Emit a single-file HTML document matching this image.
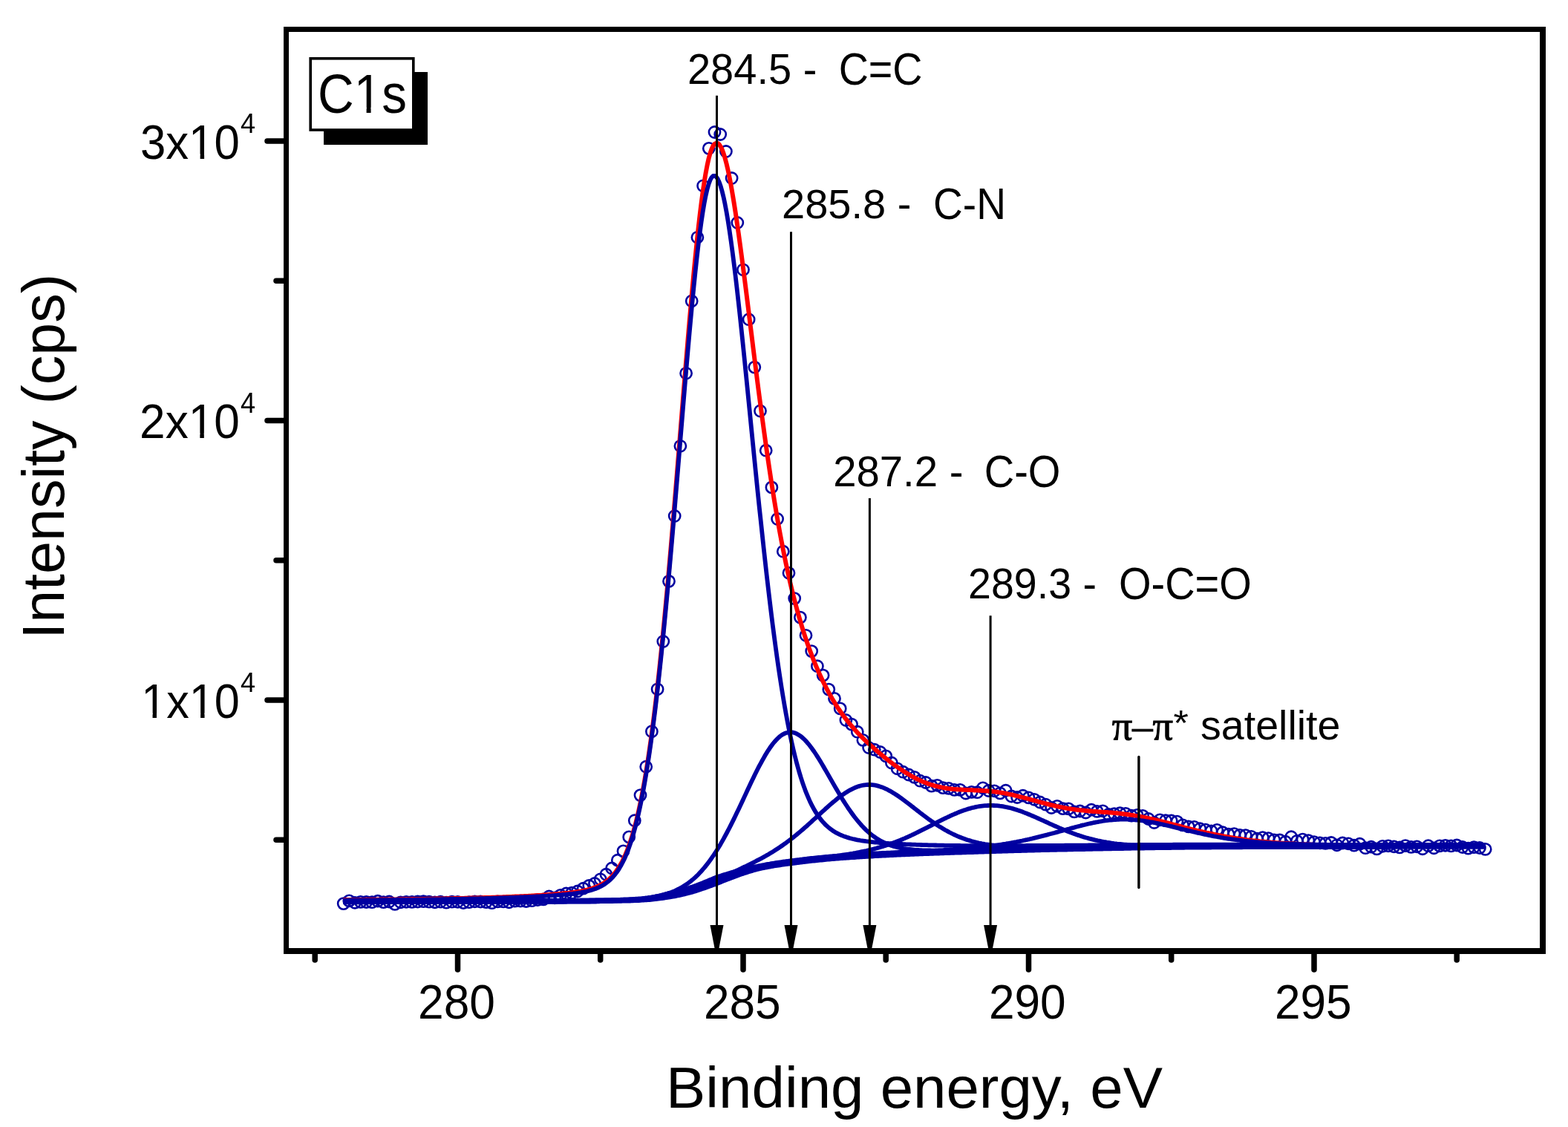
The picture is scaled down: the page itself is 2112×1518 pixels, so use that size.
<!DOCTYPE html>
<html><head><meta charset="utf-8"><title>C1s XPS</title>
<style>html,body{margin:0;padding:0;background:#fff;}svg{display:block;}</style>
</head><body>
<svg width="2112" height="1518" viewBox="0 0 2112 1518">
<rect width="2112" height="1518" fill="#fff"/>
<g fill="none" stroke="#0000A0" stroke-width="2.6">
<circle cx="462.7" cy="1217.1" r="7.6"/>
<circle cx="470.3" cy="1213.4" r="7.6"/>
<circle cx="478.0" cy="1215.8" r="7.6"/>
<circle cx="485.7" cy="1214.9" r="7.6"/>
<circle cx="493.4" cy="1215.0" r="7.6"/>
<circle cx="501.1" cy="1215.2" r="7.6"/>
<circle cx="508.8" cy="1213.7" r="7.6"/>
<circle cx="516.5" cy="1215.1" r="7.6"/>
<circle cx="524.2" cy="1214.5" r="7.6"/>
<circle cx="531.9" cy="1217.9" r="7.6"/>
<circle cx="539.6" cy="1215.3" r="7.6"/>
<circle cx="547.2" cy="1214.8" r="7.6"/>
<circle cx="554.9" cy="1214.9" r="7.6"/>
<circle cx="562.6" cy="1214.5" r="7.6"/>
<circle cx="570.3" cy="1214.2" r="7.6"/>
<circle cx="578.0" cy="1214.7" r="7.6"/>
<circle cx="585.7" cy="1215.3" r="7.6"/>
<circle cx="593.4" cy="1214.7" r="7.6"/>
<circle cx="601.1" cy="1215.7" r="7.6"/>
<circle cx="608.8" cy="1214.7" r="7.6"/>
<circle cx="616.5" cy="1214.8" r="7.6"/>
<circle cx="624.1" cy="1216.0" r="7.6"/>
<circle cx="631.8" cy="1215.2" r="7.6"/>
<circle cx="639.5" cy="1214.3" r="7.6"/>
<circle cx="647.2" cy="1214.5" r="7.6"/>
<circle cx="654.9" cy="1215.1" r="7.6"/>
<circle cx="662.6" cy="1216.2" r="7.6"/>
<circle cx="670.3" cy="1214.4" r="7.6"/>
<circle cx="678.0" cy="1214.4" r="7.6"/>
<circle cx="685.7" cy="1215.3" r="7.6"/>
<circle cx="693.4" cy="1213.6" r="7.6"/>
<circle cx="701.0" cy="1213.5" r="7.6"/>
<circle cx="708.7" cy="1214.0" r="7.6"/>
<circle cx="716.4" cy="1213.2" r="7.6"/>
<circle cx="724.1" cy="1212.0" r="7.6"/>
<circle cx="731.8" cy="1211.4" r="7.6"/>
<circle cx="739.5" cy="1207.5" r="7.6"/>
<circle cx="747.2" cy="1209.3" r="7.6"/>
<circle cx="754.9" cy="1205.9" r="7.6"/>
<circle cx="762.6" cy="1203.5" r="7.6"/>
<circle cx="770.2" cy="1202.7" r="7.6"/>
<circle cx="777.9" cy="1200.5" r="7.6"/>
<circle cx="785.6" cy="1196.7" r="7.6"/>
<circle cx="793.3" cy="1193.0" r="7.6"/>
<circle cx="801.0" cy="1190.0" r="7.6"/>
<circle cx="808.7" cy="1184.3" r="7.6"/>
<circle cx="816.4" cy="1177.7" r="7.6"/>
<circle cx="824.1" cy="1169.5" r="7.6"/>
<circle cx="831.8" cy="1158.7" r="7.6"/>
<circle cx="839.5" cy="1146.4" r="7.6"/>
<circle cx="847.2" cy="1127.4" r="7.6"/>
<circle cx="854.8" cy="1105.2" r="7.6"/>
<circle cx="862.5" cy="1071.1" r="7.6"/>
<circle cx="870.2" cy="1032.7" r="7.6"/>
<circle cx="877.9" cy="985.2" r="7.6"/>
<circle cx="885.6" cy="928.3" r="7.6"/>
<circle cx="893.3" cy="864.0" r="7.6"/>
<circle cx="901.0" cy="782.9" r="7.6"/>
<circle cx="908.7" cy="695.0" r="7.6"/>
<circle cx="916.4" cy="600.8" r="7.6"/>
<circle cx="924.1" cy="502.8" r="7.6"/>
<circle cx="931.7" cy="405.5" r="7.6"/>
<circle cx="939.4" cy="319.8" r="7.6"/>
<circle cx="947.1" cy="250.3" r="7.6"/>
<circle cx="954.8" cy="199.9" r="7.6"/>
<circle cx="962.5" cy="178.0" r="7.6"/>
<circle cx="970.2" cy="181.0" r="7.6"/>
<circle cx="977.9" cy="204.0" r="7.6"/>
<circle cx="985.6" cy="240.0" r="7.6"/>
<circle cx="993.3" cy="300.0" r="7.6"/>
<circle cx="1001.0" cy="363.3" r="7.6"/>
<circle cx="1008.6" cy="430.2" r="7.6"/>
<circle cx="1016.3" cy="494.6" r="7.6"/>
<circle cx="1024.0" cy="553.5" r="7.6"/>
<circle cx="1031.7" cy="606.7" r="7.6"/>
<circle cx="1039.4" cy="656.4" r="7.6"/>
<circle cx="1047.1" cy="699.0" r="7.6"/>
<circle cx="1054.8" cy="742.7" r="7.6"/>
<circle cx="1062.5" cy="771.8" r="7.6"/>
<circle cx="1070.2" cy="806.1" r="7.6"/>
<circle cx="1077.9" cy="831.6" r="7.6"/>
<circle cx="1085.5" cy="855.8" r="7.6"/>
<circle cx="1093.2" cy="877.1" r="7.6"/>
<circle cx="1100.9" cy="897.2" r="7.6"/>
<circle cx="1108.6" cy="909.6" r="7.6"/>
<circle cx="1116.3" cy="928.6" r="7.6"/>
<circle cx="1124.0" cy="940.9" r="7.6"/>
<circle cx="1131.7" cy="954.4" r="7.6"/>
<circle cx="1139.4" cy="970.0" r="7.6"/>
<circle cx="1147.1" cy="975.6" r="7.6"/>
<circle cx="1154.8" cy="985.7" r="7.6"/>
<circle cx="1162.4" cy="996.9" r="7.6"/>
<circle cx="1170.1" cy="1007.0" r="7.6"/>
<circle cx="1177.8" cy="1009.7" r="7.6"/>
<circle cx="1185.5" cy="1013.0" r="7.6"/>
<circle cx="1193.2" cy="1018.4" r="7.6"/>
<circle cx="1200.9" cy="1027.5" r="7.6"/>
<circle cx="1208.6" cy="1035.3" r="7.6"/>
<circle cx="1216.3" cy="1039.7" r="7.6"/>
<circle cx="1224.0" cy="1043.5" r="7.6"/>
<circle cx="1231.7" cy="1046.9" r="7.6"/>
<circle cx="1239.3" cy="1051.7" r="7.6"/>
<circle cx="1247.0" cy="1054.0" r="7.6"/>
<circle cx="1254.7" cy="1058.6" r="7.6"/>
<circle cx="1262.4" cy="1057.8" r="7.6"/>
<circle cx="1270.1" cy="1061.1" r="7.6"/>
<circle cx="1277.8" cy="1061.9" r="7.6"/>
<circle cx="1285.5" cy="1063.9" r="7.6"/>
<circle cx="1293.2" cy="1063.9" r="7.6"/>
<circle cx="1300.9" cy="1068.5" r="7.6"/>
<circle cx="1308.6" cy="1066.9" r="7.6"/>
<circle cx="1316.2" cy="1067.2" r="7.6"/>
<circle cx="1323.9" cy="1061.3" r="7.6"/>
<circle cx="1331.6" cy="1065.0" r="7.6"/>
<circle cx="1339.3" cy="1065.3" r="7.6"/>
<circle cx="1347.0" cy="1068.4" r="7.6"/>
<circle cx="1354.7" cy="1064.7" r="7.6"/>
<circle cx="1362.4" cy="1072.5" r="7.6"/>
<circle cx="1370.1" cy="1074.0" r="7.6"/>
<circle cx="1377.8" cy="1071.7" r="7.6"/>
<circle cx="1385.5" cy="1074.4" r="7.6"/>
<circle cx="1393.1" cy="1076.8" r="7.6"/>
<circle cx="1400.8" cy="1080.5" r="7.6"/>
<circle cx="1408.5" cy="1083.6" r="7.6"/>
<circle cx="1416.2" cy="1088.0" r="7.6"/>
<circle cx="1423.9" cy="1085.8" r="7.6"/>
<circle cx="1431.6" cy="1089.1" r="7.6"/>
<circle cx="1439.3" cy="1089.4" r="7.6"/>
<circle cx="1447.0" cy="1093.4" r="7.6"/>
<circle cx="1454.7" cy="1092.5" r="7.6"/>
<circle cx="1462.4" cy="1094.5" r="7.6"/>
<circle cx="1470.0" cy="1090.7" r="7.6"/>
<circle cx="1477.7" cy="1092.9" r="7.6"/>
<circle cx="1485.4" cy="1092.3" r="7.6"/>
<circle cx="1493.1" cy="1097.0" r="7.6"/>
<circle cx="1500.8" cy="1096.2" r="7.6"/>
<circle cx="1508.5" cy="1095.2" r="7.6"/>
<circle cx="1516.2" cy="1095.9" r="7.6"/>
<circle cx="1523.9" cy="1098.7" r="7.6"/>
<circle cx="1531.6" cy="1097.8" r="7.6"/>
<circle cx="1539.2" cy="1098.9" r="7.6"/>
<circle cx="1546.9" cy="1103.0" r="7.6"/>
<circle cx="1554.6" cy="1108.0" r="7.6"/>
<circle cx="1562.3" cy="1104.4" r="7.6"/>
<circle cx="1570.0" cy="1105.2" r="7.6"/>
<circle cx="1577.7" cy="1105.5" r="7.6"/>
<circle cx="1585.4" cy="1106.6" r="7.6"/>
<circle cx="1593.1" cy="1111.4" r="7.6"/>
<circle cx="1600.8" cy="1113.4" r="7.6"/>
<circle cx="1608.5" cy="1113.8" r="7.6"/>
<circle cx="1616.2" cy="1116.2" r="7.6"/>
<circle cx="1623.8" cy="1117.6" r="7.6"/>
<circle cx="1631.5" cy="1119.3" r="7.6"/>
<circle cx="1639.2" cy="1117.9" r="7.6"/>
<circle cx="1646.9" cy="1121.2" r="7.6"/>
<circle cx="1654.6" cy="1123.6" r="7.6"/>
<circle cx="1662.3" cy="1123.1" r="7.6"/>
<circle cx="1670.0" cy="1124.8" r="7.6"/>
<circle cx="1677.7" cy="1125.1" r="7.6"/>
<circle cx="1685.4" cy="1126.8" r="7.6"/>
<circle cx="1693.1" cy="1129.7" r="7.6"/>
<circle cx="1700.7" cy="1128.1" r="7.6"/>
<circle cx="1708.4" cy="1129.1" r="7.6"/>
<circle cx="1716.1" cy="1131.3" r="7.6"/>
<circle cx="1723.8" cy="1131.5" r="7.6"/>
<circle cx="1731.5" cy="1133.7" r="7.6"/>
<circle cx="1739.2" cy="1127.2" r="7.6"/>
<circle cx="1746.9" cy="1132.8" r="7.6"/>
<circle cx="1754.6" cy="1130.6" r="7.6"/>
<circle cx="1762.3" cy="1132.1" r="7.6"/>
<circle cx="1770.0" cy="1134.1" r="7.6"/>
<circle cx="1777.6" cy="1135.3" r="7.6"/>
<circle cx="1785.3" cy="1135.9" r="7.6"/>
<circle cx="1793.0" cy="1135.0" r="7.6"/>
<circle cx="1800.7" cy="1138.3" r="7.6"/>
<circle cx="1808.4" cy="1135.5" r="7.6"/>
<circle cx="1816.1" cy="1136.3" r="7.6"/>
<circle cx="1823.8" cy="1138.6" r="7.6"/>
<circle cx="1831.5" cy="1136.7" r="7.6"/>
<circle cx="1839.2" cy="1142.2" r="7.6"/>
<circle cx="1846.9" cy="1140.7" r="7.6"/>
<circle cx="1854.5" cy="1143.4" r="7.6"/>
<circle cx="1862.2" cy="1139.8" r="7.6"/>
<circle cx="1869.9" cy="1139.3" r="7.6"/>
<circle cx="1877.6" cy="1140.3" r="7.6"/>
<circle cx="1885.3" cy="1141.4" r="7.6"/>
<circle cx="1893.0" cy="1139.1" r="7.6"/>
<circle cx="1900.7" cy="1140.9" r="7.6"/>
<circle cx="1908.4" cy="1140.3" r="7.6"/>
<circle cx="1916.1" cy="1143.3" r="7.6"/>
<circle cx="1923.8" cy="1139.2" r="7.6"/>
<circle cx="1931.4" cy="1142.3" r="7.6"/>
<circle cx="1939.1" cy="1139.4" r="7.6"/>
<circle cx="1946.8" cy="1138.8" r="7.6"/>
<circle cx="1954.5" cy="1139.4" r="7.6"/>
<circle cx="1962.2" cy="1138.5" r="7.6"/>
<circle cx="1969.9" cy="1141.0" r="7.6"/>
<circle cx="1977.6" cy="1142.6" r="7.6"/>
<circle cx="1985.3" cy="1141.1" r="7.6"/>
<circle cx="1993.0" cy="1142.0" r="7.6"/>
<circle cx="2000.7" cy="1143.9" r="7.6"/>
</g>
<path d="M462.6,1212.1 L464.6,1212.1 L466.6,1212.1 L468.6,1212.1 L470.6,1212.0 L472.6,1212.0 L474.6,1212.0 L476.6,1212.0 L478.6,1212.0 L480.6,1212.0 L482.6,1211.9 L484.6,1211.9 L486.6,1211.9 L488.6,1211.9 L490.6,1211.9 L492.6,1211.8 L494.6,1211.8 L496.6,1211.8 L498.6,1211.8 L500.6,1211.8 L502.6,1211.8 L504.6,1211.7 L506.6,1211.7 L508.6,1211.7 L510.6,1211.7 L512.6,1211.6 L514.6,1211.6 L516.6,1211.6 L518.6,1211.6 L520.6,1211.6 L522.6,1211.5 L524.6,1211.5 L526.6,1211.5 L528.6,1211.5 L530.6,1211.4 L532.6,1211.4 L534.6,1211.4 L536.6,1211.4 L538.6,1211.3 L540.6,1211.3 L542.6,1211.3 L544.6,1211.3 L546.6,1211.2 L548.6,1211.2 L550.6,1211.2 L552.6,1211.2 L554.6,1211.1 L556.6,1211.1 L558.6,1211.1 L560.6,1211.0 L562.6,1211.0 L564.6,1211.0 L566.6,1211.0 L568.6,1210.9 L570.6,1210.9 L572.6,1210.9 L574.6,1210.8 L576.6,1210.8 L578.6,1210.8 L580.6,1210.7 L582.6,1210.7 L584.6,1210.7 L586.6,1210.6 L588.6,1210.6 L590.6,1210.6 L592.6,1210.5 L594.6,1210.5 L596.6,1210.5 L598.6,1210.4 L600.6,1210.4 L602.6,1210.3 L604.6,1210.3 L606.6,1210.3 L608.6,1210.2 L610.6,1210.2 L612.6,1210.1 L614.6,1210.1 L616.6,1210.1 L618.6,1210.0 L620.6,1210.0 L622.6,1209.9 L624.6,1209.9 L626.6,1209.8 L628.6,1209.8 L630.6,1209.7 L632.6,1209.7 L634.6,1209.6 L636.6,1209.6 L638.6,1209.5 L640.6,1209.5 L642.6,1209.4 L644.6,1209.4 L646.6,1209.3 L648.6,1209.3 L650.6,1209.2 L652.6,1209.1 L654.6,1209.1 L656.6,1209.0 L658.6,1209.0 L660.6,1208.9 L662.6,1208.8 L664.6,1208.8 L666.6,1208.7 L668.6,1208.6 L670.6,1208.6 L672.6,1208.5 L674.6,1208.4 L676.6,1208.4 L678.6,1208.3 L680.6,1208.2 L682.6,1208.1 L684.6,1208.1 L686.6,1208.0 L688.6,1207.9 L690.6,1207.8 L692.6,1207.7 L694.6,1207.6 L696.6,1207.5 L698.6,1207.5 L700.6,1207.4 L702.6,1207.3 L704.6,1207.2 L706.6,1207.1 L708.6,1207.0 L710.6,1206.9 L712.6,1206.8 L714.6,1206.7 L716.6,1206.6 L718.6,1206.5 L720.6,1206.3 L722.6,1206.2 L724.6,1206.1 L726.6,1206.0 L728.6,1205.9 L730.6,1205.7 L732.6,1205.6 L734.6,1205.5 L736.6,1205.3 L738.6,1205.2 L740.6,1205.0 L742.6,1204.9 L744.6,1204.7 L746.6,1204.6 L748.6,1204.4 L750.6,1204.3 L752.6,1204.1 L754.6,1203.9 L756.6,1203.7 L758.6,1203.5 L760.6,1203.3 L762.6,1203.1 L764.6,1202.9 L766.6,1202.7 L768.6,1202.4 L770.6,1202.2 L772.6,1201.9 L774.6,1201.6 L776.6,1201.4 L778.6,1201.0 L780.6,1200.7 L782.6,1200.4 L784.6,1200.0 L786.6,1199.6 L788.6,1199.1 L790.6,1198.7 L792.6,1198.2 L794.6,1197.6 L796.6,1197.0 L798.6,1196.4 L800.6,1195.7 L802.6,1194.9 L804.6,1194.1 L806.6,1193.2 L808.6,1192.2 L810.6,1191.1 L812.6,1190.0 L814.6,1188.7 L816.6,1187.2 L818.6,1185.7 L820.6,1184.0 L822.6,1182.1 L824.6,1180.0 L826.6,1177.8 L828.6,1175.3 L830.6,1172.7 L832.6,1169.7 L834.6,1166.5 L836.6,1163.1 L838.6,1159.3 L840.6,1155.1 L842.6,1150.7 L844.6,1145.8 L846.6,1140.6 L848.6,1134.9 L850.6,1128.8 L852.6,1122.2 L854.6,1115.1 L856.6,1107.4 L858.6,1099.2 L860.6,1090.5 L862.6,1081.1 L864.6,1071.2 L866.6,1060.5 L868.6,1049.2 L870.6,1037.3 L872.6,1024.6 L874.6,1011.2 L876.6,997.1 L878.6,982.3 L880.6,966.7 L882.6,950.4 L884.6,933.4 L886.6,915.6 L888.6,897.1 L890.6,877.9 L892.6,858.1 L894.6,837.5 L896.6,816.3 L898.6,794.6 L900.6,772.2 L902.6,749.3 L904.6,726.0 L906.6,702.2 L908.6,678.1 L910.6,653.7 L912.6,629.1 L914.6,604.3 L916.6,579.4 L918.6,554.6 L920.6,529.8 L922.6,505.2 L924.6,480.9 L926.6,456.9 L928.6,433.4 L930.6,410.5 L932.6,388.2 L934.6,366.6 L936.6,346.0 L938.6,326.3 L940.6,307.6 L942.6,290.1 L944.6,273.8 L946.6,258.8 L948.6,245.2 L950.6,233.1 L952.6,222.5 L954.6,213.5 L956.6,206.2 L958.6,200.5 L960.6,196.4 L962.6,193.9 L964.6,192.8 L966.6,193.0 L968.6,194.5 L970.6,197.4 L972.6,201.4 L974.6,206.8 L976.6,213.2 L978.6,220.8 L980.6,229.4 L982.6,239.0 L984.6,249.5 L986.6,260.9 L988.6,273.0 L990.6,285.8 L992.6,299.2 L994.6,313.2 L996.6,327.7 L998.6,342.6 L1000.6,357.9 L1002.6,373.4 L1004.6,389.2 L1006.6,405.1 L1008.6,421.2 L1010.6,437.3 L1012.6,453.4 L1014.6,469.5 L1016.6,485.5 L1018.6,501.4 L1020.6,517.1 L1022.6,532.7 L1024.7,548.0 L1026.7,563.1 L1028.7,577.9 L1030.7,592.4 L1032.7,606.6 L1034.7,620.5 L1036.7,634.0 L1038.7,647.2 L1040.7,660.0 L1042.7,672.5 L1044.7,684.6 L1046.7,696.4 L1048.7,707.7 L1050.7,718.8 L1052.7,729.4 L1054.7,739.7 L1056.7,749.7 L1058.7,759.3 L1060.7,768.6 L1062.7,777.6 L1064.7,786.3 L1066.7,794.7 L1068.7,802.8 L1070.7,810.6 L1072.7,818.1 L1074.7,825.4 L1076.7,832.4 L1078.7,839.2 L1080.7,845.8 L1082.7,852.1 L1084.7,858.3 L1086.7,864.2 L1088.7,869.9 L1090.7,875.5 L1092.7,880.8 L1094.7,886.1 L1096.7,891.1 L1098.7,896.0 L1100.7,900.7 L1102.7,905.3 L1104.7,909.7 L1106.7,914.0 L1108.7,918.2 L1110.7,922.2 L1112.7,926.1 L1114.7,929.9 L1116.7,933.6 L1118.7,937.2 L1120.7,940.7 L1122.7,944.0 L1124.7,947.3 L1126.7,950.5 L1128.7,953.6 L1130.7,956.5 L1132.7,959.4 L1134.7,962.2 L1136.7,965.0 L1138.7,967.6 L1140.7,970.2 L1142.7,972.7 L1144.7,975.2 L1146.7,977.5 L1148.7,979.8 L1150.7,982.1 L1152.7,984.3 L1154.7,986.5 L1156.7,988.6 L1158.7,990.6 L1160.7,992.6 L1162.7,994.6 L1164.7,996.6 L1166.7,998.5 L1168.7,1000.4 L1170.7,1002.2 L1172.7,1004.0 L1174.7,1005.8 L1176.7,1007.6 L1178.7,1009.4 L1180.7,1011.1 L1182.7,1012.8 L1184.7,1014.5 L1186.7,1016.2 L1188.7,1017.8 L1190.7,1019.4 L1192.7,1021.1 L1194.7,1022.6 L1196.7,1024.2 L1198.7,1025.8 L1200.7,1027.3 L1202.7,1028.8 L1204.7,1030.3 L1206.7,1031.7 L1208.7,1033.1 L1210.7,1034.5 L1212.7,1035.9 L1214.7,1037.3 L1216.7,1038.6 L1218.7,1039.9 L1220.7,1041.1 L1222.7,1042.3 L1224.7,1043.5 L1226.7,1044.7 L1228.7,1045.8 L1230.7,1046.9 L1232.7,1048.0 L1234.7,1049.0 L1236.7,1050.0 L1238.7,1050.9 L1240.7,1051.8 L1242.7,1052.7 L1244.7,1053.5 L1246.7,1054.3 L1248.7,1055.1 L1250.7,1055.8 L1252.7,1056.5 L1254.7,1057.1 L1256.7,1057.7 L1258.7,1058.3 L1260.7,1058.8 L1262.7,1059.3 L1264.7,1059.8 L1266.7,1060.2 L1268.7,1060.6 L1270.7,1061.0 L1272.7,1061.4 L1274.7,1061.7 L1276.7,1062.0 L1278.7,1062.2 L1280.7,1062.5 L1282.7,1062.7 L1284.7,1062.9 L1286.7,1063.0 L1288.7,1063.2 L1290.7,1063.3 L1292.7,1063.5 L1294.7,1063.6 L1296.7,1063.7 L1298.7,1063.8 L1300.7,1063.9 L1302.7,1064.0 L1304.7,1064.1 L1306.7,1064.1 L1308.7,1064.2 L1310.7,1064.3 L1312.7,1064.4 L1314.7,1064.5 L1316.7,1064.6 L1318.7,1064.7 L1320.7,1064.8 L1322.7,1064.9 L1324.7,1065.0 L1326.7,1065.2 L1328.7,1065.3 L1330.7,1065.5 L1332.7,1065.7 L1334.7,1065.9 L1336.7,1066.1 L1338.7,1066.3 L1340.7,1066.6 L1342.7,1066.8 L1344.7,1067.1 L1346.7,1067.4 L1348.7,1067.7 L1350.7,1068.0 L1352.7,1068.4 L1354.7,1068.8 L1356.7,1069.1 L1358.7,1069.6 L1360.7,1070.0 L1362.7,1070.4 L1364.7,1070.8 L1366.7,1071.3 L1368.7,1071.8 L1370.7,1072.3 L1372.7,1072.8 L1374.7,1073.3 L1376.7,1073.8 L1378.7,1074.3 L1380.7,1074.8 L1382.7,1075.4 L1384.7,1075.9 L1386.7,1076.5 L1388.7,1077.0 L1390.7,1077.6 L1392.7,1078.1 L1394.7,1078.7 L1396.7,1079.2 L1398.7,1079.8 L1400.7,1080.3 L1402.7,1080.9 L1404.7,1081.4 L1406.7,1081.9 L1408.7,1082.5 L1410.7,1083.0 L1412.7,1083.5 L1414.7,1084.0 L1416.7,1084.5 L1418.7,1084.9 L1420.7,1085.4 L1422.7,1085.9 L1424.7,1086.3 L1426.7,1086.7 L1428.7,1087.1 L1430.7,1087.5 L1432.7,1087.9 L1434.7,1088.3 L1436.7,1088.6 L1438.7,1089.0 L1440.7,1089.3 L1442.7,1089.6 L1444.7,1089.9 L1446.7,1090.2 L1448.7,1090.5 L1450.7,1090.7 L1452.7,1091.0 L1454.7,1091.2 L1456.7,1091.4 L1458.7,1091.6 L1460.7,1091.8 L1462.7,1092.0 L1464.7,1092.2 L1466.7,1092.4 L1468.7,1092.5 L1470.7,1092.7 L1472.7,1092.9 L1474.7,1093.0 L1476.7,1093.1 L1478.7,1093.3 L1480.7,1093.4 L1482.7,1093.6 L1484.7,1093.7 L1486.7,1093.9 L1488.7,1094.0 L1490.7,1094.1 L1492.7,1094.3 L1494.7,1094.5 L1496.7,1094.6 L1498.7,1094.8 L1500.7,1095.0 L1502.7,1095.2 L1504.7,1095.3 L1506.7,1095.6 L1508.7,1095.8 L1510.7,1096.0 L1512.7,1096.2 L1514.7,1096.5 L1516.7,1096.7 L1518.7,1097.0 L1520.7,1097.3 L1522.7,1097.6 L1524.7,1097.9 L1526.7,1098.2 L1528.7,1098.6 L1530.7,1098.9 L1532.7,1099.3 L1534.7,1099.6 L1536.7,1100.0 L1538.7,1100.4 L1540.7,1100.8 L1542.7,1101.3 L1544.7,1101.7 L1546.7,1102.1 L1548.7,1102.6 L1550.7,1103.0 L1552.7,1103.5 L1554.7,1104.0 L1556.7,1104.4 L1558.7,1104.9 L1560.7,1105.4 L1562.7,1105.9 L1564.7,1106.4 L1566.7,1106.9 L1568.7,1107.4 L1570.7,1108.0 L1572.7,1108.5 L1574.7,1109.0 L1576.7,1109.5 L1578.7,1110.1 L1580.7,1110.6 L1582.7,1111.1 L1584.7,1111.6 L1586.7,1112.2 L1588.7,1112.7 L1590.7,1113.2 L1592.7,1113.8 L1594.7,1114.3 L1596.7,1114.8 L1598.7,1115.3 L1600.7,1115.8 L1602.7,1116.3 L1604.7,1116.8 L1606.7,1117.3 L1608.7,1117.8 L1610.7,1118.3 L1612.7,1118.8 L1614.7,1119.3 L1616.7,1119.8 L1618.7,1120.2 L1620.7,1120.7 L1622.7,1121.1 L1624.7,1121.6 L1626.7,1122.0 L1628.7,1122.5 L1630.7,1122.9 L1632.7,1123.3 L1634.7,1123.7 L1636.7,1124.1 L1638.7,1124.5 L1640.7,1124.9 L1642.7,1125.3 L1644.7,1125.6 L1646.7,1126.0 L1648.7,1126.4 L1650.7,1126.7 L1652.7,1127.1 L1654.7,1127.4 L1656.7,1127.8 L1658.7,1128.1 L1660.7,1128.5 L1662.7,1128.8 L1664.7,1129.1 L1666.7,1129.4 L1668.7,1129.8 L1670.7,1130.0 L1672.7,1130.3 L1674.7,1130.6 L1676.7,1130.9 L1678.7,1131.2 L1680.7,1131.4 L1682.7,1131.7 L1684.7,1131.9 L1686.7,1132.2 L1688.7,1132.4 L1690.7,1132.6 L1692.7,1132.8 L1694.7,1133.0 L1696.7,1133.3 L1698.7,1133.5 L1700.7,1133.7 L1702.7,1133.8 L1704.7,1134.0 L1706.7,1134.2 L1708.7,1134.4 L1710.7,1134.5 L1712.7,1134.7 L1714.7,1134.9 L1716.7,1135.0 L1718.7,1135.2 L1720.7,1135.3 L1722.7,1135.4 L1724.7,1135.6 L1726.7,1135.7 L1728.7,1135.8 L1730.7,1136.0 L1732.7,1136.1 L1734.7,1136.2 L1736.7,1136.3 L1738.7,1136.4 L1740.7,1136.5 L1742.7,1136.6 L1744.7,1136.7 L1746.7,1136.8 L1748.7,1136.9 L1750.7,1137.0 L1752.7,1137.1 L1754.7,1137.2 L1756.7,1137.3 L1758.7,1137.4 L1760.7,1137.5 L1762.7,1137.6 L1764.7,1137.6 L1766.7,1137.7 L1768.7,1137.8 L1770.7,1137.9 L1772.7,1137.9 L1774.7,1138.0 L1776.7,1138.1 L1778.7,1138.1 L1780.7,1138.2 L1782.7,1138.3 L1784.7,1138.3 L1786.7,1138.4 L1788.7,1138.5 L1790.7,1138.5 L1792.7,1138.6 L1794.7,1138.7 L1796.7,1138.7 L1798.7,1138.8 L1800.7,1138.8 L1802.7,1138.9 L1804.7,1138.9 L1806.7,1138.9 L1808.7,1138.9 L1810.7,1138.9 L1812.7,1139.0 L1814.7,1139.0 L1816.7,1139.0 L1818.7,1139.0 L1820.7,1139.0 L1822.7,1139.1 L1824.7,1139.1 L1826.7,1139.1 L1828.7,1139.1 L1830.7,1139.1 L1832.7,1139.2 L1834.7,1139.2 L1836.7,1139.2 L1838.7,1139.2 L1840.7,1139.2 L1842.7,1139.2 L1844.7,1139.2 L1846.7,1139.3 L1848.7,1139.3 L1850.7,1139.3 L1852.7,1139.3 L1854.7,1139.3 L1856.7,1139.3 L1858.7,1139.3 L1860.7,1139.4 L1862.7,1139.4 L1864.7,1139.4 L1866.7,1139.4 L1868.7,1139.4 L1870.7,1139.4 L1872.7,1139.4 L1874.7,1139.4 L1876.7,1139.5 L1878.7,1139.5 L1880.7,1139.5 L1882.7,1139.5 L1884.7,1139.5 L1886.7,1139.5 L1888.7,1139.5 L1890.7,1139.5 L1892.7,1139.5 L1894.7,1139.6 L1896.7,1139.6 L1898.7,1139.6 L1900.7,1139.6 L1902.7,1139.6 L1904.7,1139.6 L1906.7,1139.6 L1908.7,1139.6 L1910.7,1139.6 L1912.7,1139.6 L1914.7,1139.7 L1916.7,1139.7 L1918.7,1139.7 L1920.7,1139.7 L1922.7,1139.7 L1924.7,1139.7 L1926.7,1139.7 L1928.7,1139.7 L1930.7,1139.7 L1932.7,1139.7 L1934.7,1139.7 L1936.7,1139.7 L1938.7,1139.8 L1940.7,1139.8 L1942.7,1139.8 L1944.7,1139.8 L1946.7,1139.8 L1948.7,1139.8 L1950.7,1139.8 L1952.7,1139.8 L1954.7,1139.8 L1956.7,1139.8 L1958.7,1139.8 L1960.7,1139.8 L1962.7,1139.8 L1964.7,1139.9 L1966.7,1139.9 L1968.7,1139.9 L1970.7,1139.9 L1972.7,1139.9 L1974.7,1139.9 L1976.7,1139.9 L1978.7,1139.9 L1980.7,1139.9 L1982.7,1139.9 L1984.7,1139.9 L1986.7,1139.9 L1988.7,1139.9 L1990.7,1139.9 L1992.7,1139.9 L1994.7,1140.0 L1996.7,1140.0 L1998.7,1140.0 L2000.7,1140.0" fill="none" stroke="#FF0000" stroke-width="6" stroke-linejoin="round"/>
<g fill="none" stroke="#0000A0" stroke-width="5.8" stroke-linejoin="round">
<path d="M462.6,1215.2 L464.6,1215.2 L466.6,1215.2 L468.6,1215.2 L470.6,1215.2 L472.6,1215.2 L474.6,1215.2 L476.6,1215.2 L478.6,1215.2 L480.6,1215.2 L482.6,1215.2 L484.6,1215.2 L486.6,1215.2 L488.6,1215.2 L490.6,1215.2 L492.6,1215.2 L494.6,1215.2 L496.6,1215.2 L498.6,1215.2 L500.6,1215.2 L502.6,1215.2 L504.6,1215.2 L506.6,1215.2 L508.6,1215.1 L510.6,1215.1 L512.6,1215.1 L514.6,1215.1 L516.6,1215.1 L518.6,1215.1 L520.6,1215.1 L522.6,1215.1 L524.6,1215.1 L526.6,1215.1 L528.6,1215.1 L530.6,1215.1 L532.6,1215.1 L534.6,1215.1 L536.6,1215.1 L538.6,1215.1 L540.6,1215.1 L542.6,1215.1 L544.6,1215.1 L546.6,1215.1 L548.6,1215.1 L550.6,1215.1 L552.6,1215.1 L554.6,1215.1 L556.6,1215.1 L558.6,1215.1 L560.6,1215.1 L562.6,1215.0 L564.6,1215.0 L566.6,1215.0 L568.6,1215.0 L570.6,1215.0 L572.6,1215.0 L574.6,1215.0 L576.6,1215.0 L578.6,1215.0 L580.6,1215.0 L582.6,1215.0 L584.6,1215.0 L586.6,1215.0 L588.6,1215.0 L590.6,1215.0 L592.6,1215.0 L594.6,1215.0 L596.6,1215.0 L598.6,1215.0 L600.6,1215.0 L602.6,1215.0 L604.6,1215.0 L606.6,1215.0 L608.6,1214.9 L610.6,1214.9 L612.6,1214.9 L614.6,1214.9 L616.6,1214.9 L618.6,1214.9 L620.6,1214.9 L622.6,1214.9 L624.6,1214.9 L626.6,1214.9 L628.6,1214.9 L630.6,1214.9 L632.6,1214.9 L634.6,1214.9 L636.6,1214.9 L638.6,1214.9 L640.6,1214.9 L642.6,1214.9 L644.6,1214.9 L646.6,1214.9 L648.6,1214.8 L650.6,1214.8 L652.6,1214.8 L654.6,1214.8 L656.6,1214.8 L658.6,1214.8 L660.6,1214.8 L662.6,1214.8 L664.6,1214.8 L666.6,1214.8 L668.6,1214.8 L670.6,1214.8 L672.6,1214.8 L674.6,1214.8 L676.6,1214.8 L678.6,1214.8 L680.6,1214.8 L682.6,1214.7 L684.6,1214.7 L686.6,1214.7 L688.6,1214.7 L690.6,1214.7 L692.6,1214.7 L694.6,1214.7 L696.6,1214.7 L698.6,1214.7 L700.6,1214.7 L702.6,1214.7 L704.6,1214.7 L706.6,1214.7 L708.6,1214.7 L710.6,1214.7 L712.6,1214.6 L714.6,1214.6 L716.6,1214.6 L718.6,1214.6 L720.6,1214.6 L722.6,1214.6 L724.6,1214.6 L726.6,1214.6 L728.6,1214.6 L730.6,1214.6 L732.6,1214.6 L734.6,1214.6 L736.6,1214.6 L738.6,1214.5 L740.6,1214.5 L742.6,1214.5 L744.6,1214.5 L746.6,1214.5 L748.6,1214.5 L750.6,1214.5 L752.6,1214.5 L754.6,1214.5 L756.6,1214.5 L758.6,1214.5 L760.6,1214.4 L762.6,1214.4 L764.6,1214.4 L766.6,1214.4 L768.6,1214.4 L770.6,1214.4 L772.6,1214.4 L774.6,1214.4 L776.6,1214.4 L778.6,1214.4 L780.6,1214.3 L782.6,1214.3 L784.6,1214.3 L786.6,1214.3 L788.6,1214.3 L790.6,1214.3 L792.6,1214.3 L794.6,1214.3 L796.6,1214.2 L798.6,1214.2 L800.6,1214.2 L802.6,1214.2 L804.6,1214.2 L806.6,1214.2 L808.6,1214.1 L810.6,1214.1 L812.6,1214.1 L814.6,1214.1 L816.6,1214.1 L818.6,1214.0 L820.6,1214.0 L822.6,1214.0 L824.6,1214.0 L826.6,1213.9 L828.6,1213.9 L830.6,1213.9 L832.6,1213.8 L834.6,1213.8 L836.6,1213.8 L838.6,1213.7 L840.6,1213.7 L842.6,1213.6 L844.6,1213.6 L846.6,1213.5 L848.6,1213.5 L850.6,1213.4 L852.6,1213.3 L854.6,1213.2 L856.6,1213.2 L858.6,1213.1 L860.6,1213.0 L862.6,1212.9 L864.6,1212.7 L866.6,1212.6 L868.6,1212.4 L870.6,1212.3 L872.6,1212.1 L874.6,1212.0 L876.6,1211.8 L878.6,1211.6 L880.6,1211.4 L882.6,1211.2 L884.6,1210.9 L886.6,1210.7 L888.6,1210.4 L890.6,1210.2 L892.6,1209.9 L894.6,1209.6 L896.6,1209.2 L898.6,1208.9 L900.6,1208.6 L902.6,1208.3 L904.6,1208.0 L906.6,1207.6 L908.6,1207.3 L910.6,1206.9 L912.6,1206.5 L914.6,1206.1 L916.6,1205.7 L918.6,1205.2 L920.6,1204.7 L922.6,1204.3 L924.6,1203.8 L926.6,1203.2 L928.6,1202.7 L930.6,1202.1 L932.6,1201.6 L934.6,1201.0 L936.6,1200.4 L938.6,1199.7 L940.6,1199.1 L942.6,1198.4 L944.6,1197.8 L946.6,1197.1 L948.6,1196.4 L950.6,1195.7 L952.6,1195.0 L954.6,1194.3 L956.6,1193.6 L958.6,1192.9 L960.6,1192.1 L962.6,1191.4 L964.6,1190.7 L966.6,1189.9 L968.6,1189.1 L970.6,1188.3 L972.6,1187.4 L974.6,1186.6 L976.6,1185.8 L978.6,1185.0 L980.6,1184.3 L982.6,1183.5 L984.6,1182.7 L986.6,1182.0 L988.6,1181.2 L990.6,1180.5 L992.6,1179.7 L994.6,1179.0 L996.6,1178.3 L998.6,1177.6 L1000.6,1176.9 L1002.6,1176.3 L1004.6,1175.6 L1006.6,1175.0 L1008.6,1174.3 L1010.6,1173.7 L1012.6,1173.1 L1014.6,1172.5 L1016.6,1171.9 L1018.6,1171.4 L1020.6,1170.8 L1022.6,1170.4 L1024.7,1170.0 L1026.7,1169.5 L1028.7,1169.1 L1030.7,1168.7 L1032.7,1168.3 L1034.7,1167.9 L1036.7,1167.6 L1038.7,1167.2 L1040.7,1166.9 L1042.7,1166.5 L1044.7,1166.2 L1046.7,1165.9 L1048.7,1165.6 L1050.7,1165.3 L1052.7,1165.0 L1054.7,1164.7 L1056.7,1164.4 L1058.7,1164.2 L1060.7,1163.9 L1062.7,1163.7 L1064.7,1163.4 L1066.7,1163.1 L1068.7,1162.9 L1070.7,1162.6 L1072.7,1162.3 L1074.7,1162.0 L1076.7,1161.8 L1078.7,1161.5 L1080.7,1161.3 L1082.7,1161.0 L1084.7,1160.8 L1086.7,1160.6 L1088.7,1160.3 L1090.7,1160.1 L1092.7,1159.9 L1094.7,1159.7 L1096.7,1159.5 L1098.7,1159.3 L1100.7,1159.1 L1102.7,1158.9 L1104.7,1158.7 L1106.7,1158.5 L1108.7,1158.3 L1110.7,1158.1 L1112.7,1157.9 L1114.7,1157.7 L1116.7,1157.6 L1118.7,1157.4 L1120.7,1157.2 L1122.7,1157.0 L1124.7,1156.9 L1126.7,1156.7 L1128.7,1156.6 L1130.7,1156.4 L1132.7,1156.2 L1134.7,1156.1 L1136.7,1155.9 L1138.7,1155.8 L1140.7,1155.6 L1142.7,1155.5 L1144.7,1155.4 L1146.7,1155.2 L1148.7,1155.1 L1150.7,1155.0 L1152.7,1154.8 L1154.7,1154.7 L1156.7,1154.6 L1158.7,1154.4 L1160.7,1154.3 L1162.7,1154.2 L1164.7,1154.1 L1166.7,1153.9 L1168.7,1153.8 L1170.7,1153.7 L1172.7,1153.6 L1174.7,1153.5 L1176.7,1153.3 L1178.7,1153.2 L1180.7,1153.1 L1182.7,1153.0 L1184.7,1152.9 L1186.7,1152.8 L1188.7,1152.7 L1190.7,1152.6 L1192.7,1152.5 L1194.7,1152.4 L1196.7,1152.3 L1198.7,1152.2 L1200.7,1152.1 L1202.7,1152.0 L1204.7,1151.9 L1206.7,1151.8 L1208.7,1151.7 L1210.7,1151.6 L1212.7,1151.5 L1214.7,1151.4 L1216.7,1151.3 L1218.7,1151.3 L1220.7,1151.2 L1222.7,1151.1 L1224.7,1151.0 L1226.7,1150.9 L1228.7,1150.8 L1230.7,1150.8 L1232.7,1150.7 L1234.7,1150.6 L1236.7,1150.5 L1238.7,1150.4 L1240.7,1150.4 L1242.7,1150.3 L1244.7,1150.2 L1246.7,1150.1 L1248.7,1150.1 L1250.7,1150.0 L1252.7,1149.9 L1254.7,1149.8 L1256.7,1149.8 L1258.7,1149.7 L1260.7,1149.6 L1262.7,1149.6 L1264.7,1149.5 L1266.7,1149.4 L1268.7,1149.4 L1270.7,1149.3 L1272.7,1149.2 L1274.7,1149.1 L1276.7,1149.1 L1278.7,1149.0 L1280.7,1148.9 L1282.7,1148.9 L1284.7,1148.8 L1286.7,1148.7 L1288.7,1148.7 L1290.7,1148.6 L1292.7,1148.5 L1294.7,1148.5 L1296.7,1148.4 L1298.7,1148.3 L1300.7,1148.3 L1302.7,1148.2 L1304.7,1148.2 L1306.7,1148.1 L1308.7,1148.0 L1310.7,1148.0 L1312.7,1147.9 L1314.7,1147.8 L1316.7,1147.8 L1318.7,1147.7 L1320.7,1147.6 L1322.7,1147.6 L1324.7,1147.5 L1326.7,1147.4 L1328.7,1147.4 L1330.7,1147.3 L1332.7,1147.3 L1334.7,1147.2 L1336.7,1147.1 L1338.7,1147.1 L1340.7,1147.0 L1342.7,1146.9 L1344.7,1146.9 L1346.7,1146.8 L1348.7,1146.8 L1350.7,1146.7 L1352.7,1146.6 L1354.7,1146.6 L1356.7,1146.5 L1358.7,1146.4 L1360.7,1146.4 L1362.7,1146.3 L1364.7,1146.3 L1366.7,1146.2 L1368.7,1146.2 L1370.7,1146.1 L1372.7,1146.0 L1374.7,1146.0 L1376.7,1145.9 L1378.7,1145.9 L1380.7,1145.8 L1382.7,1145.8 L1384.7,1145.7 L1386.7,1145.7 L1388.7,1145.6 L1390.7,1145.5 L1392.7,1145.5 L1394.7,1145.4 L1396.7,1145.4 L1398.7,1145.3 L1400.7,1145.3 L1402.7,1145.2 L1404.7,1145.2 L1406.7,1145.1 L1408.7,1145.1 L1410.7,1145.0 L1412.7,1145.0 L1414.7,1144.9 L1416.7,1144.9 L1418.7,1144.9 L1420.7,1144.8 L1422.7,1144.8 L1424.7,1144.7 L1426.7,1144.7 L1428.7,1144.6 L1430.7,1144.6 L1432.7,1144.5 L1434.7,1144.5 L1436.7,1144.5 L1438.7,1144.4 L1440.7,1144.4 L1442.7,1144.3 L1444.7,1144.3 L1446.7,1144.2 L1448.7,1144.2 L1450.7,1144.2 L1452.7,1144.1 L1454.7,1144.1 L1456.7,1144.0 L1458.7,1144.0 L1460.7,1144.0 L1462.7,1143.9 L1464.7,1143.9 L1466.7,1143.8 L1468.7,1143.8 L1470.7,1143.8 L1472.7,1143.7 L1474.7,1143.7 L1476.7,1143.6 L1478.7,1143.6 L1480.7,1143.6 L1482.7,1143.5 L1484.7,1143.5 L1486.7,1143.4 L1488.7,1143.4 L1490.7,1143.4 L1492.7,1143.3 L1494.7,1143.3 L1496.7,1143.3 L1498.7,1143.2 L1500.7,1143.2 L1502.7,1143.1 L1504.7,1143.1 L1506.7,1143.1 L1508.7,1143.0 L1510.7,1143.0 L1512.7,1143.0 L1514.7,1142.9 L1516.7,1142.9 L1518.7,1142.9 L1520.7,1142.8 L1522.7,1142.8 L1524.7,1142.7 L1526.7,1142.7 L1528.7,1142.7 L1530.7,1142.6 L1532.7,1142.6 L1534.7,1142.6 L1536.7,1142.5 L1538.7,1142.5 L1540.7,1142.5 L1542.7,1142.4 L1544.7,1142.4 L1546.7,1142.4 L1548.7,1142.4 L1550.7,1142.3 L1552.7,1142.3 L1554.7,1142.3 L1556.7,1142.2 L1558.7,1142.2 L1560.7,1142.2 L1562.7,1142.1 L1564.7,1142.1 L1566.7,1142.1 L1568.7,1142.1 L1570.7,1142.0 L1572.7,1142.0 L1574.7,1142.0 L1576.7,1142.0 L1578.7,1141.9 L1580.7,1141.9 L1582.7,1141.9 L1584.7,1141.9 L1586.7,1141.8 L1588.7,1141.8 L1590.7,1141.8 L1592.7,1141.8 L1594.7,1141.8 L1596.7,1141.7 L1598.7,1141.7 L1600.7,1141.7 L1602.7,1141.7 L1604.7,1141.7 L1606.7,1141.6 L1608.7,1141.6 L1610.7,1141.6 L1612.7,1141.6 L1614.7,1141.6 L1616.7,1141.6 L1618.7,1141.5 L1620.7,1141.5 L1622.7,1141.5 L1624.7,1141.5 L1626.7,1141.5 L1628.7,1141.5 L1630.7,1141.5 L1632.7,1141.4 L1634.7,1141.4 L1636.7,1141.4 L1638.7,1141.4 L1640.7,1141.4 L1642.7,1141.4 L1644.7,1141.4 L1646.7,1141.4 L1648.7,1141.4 L1650.7,1141.3 L1652.7,1141.3 L1654.7,1141.3 L1656.7,1141.3 L1658.7,1141.3 L1660.7,1141.3 L1662.7,1141.3 L1664.7,1141.3 L1666.7,1141.3 L1668.7,1141.3 L1670.7,1141.3 L1672.7,1141.3 L1674.7,1141.2 L1676.7,1141.2 L1678.7,1141.2 L1680.7,1141.2 L1682.7,1141.2 L1684.7,1141.2 L1686.7,1141.2 L1688.7,1141.2 L1690.7,1141.2 L1692.7,1141.2 L1694.7,1141.2 L1696.7,1141.2 L1698.7,1141.2 L1700.7,1141.2 L1702.7,1141.2 L1704.7,1141.2 L1706.7,1141.2 L1708.7,1141.1 L1710.7,1141.1 L1712.7,1141.1 L1714.7,1141.1 L1716.7,1141.1 L1718.7,1141.1 L1720.7,1141.1 L1722.7,1141.1 L1724.7,1141.1 L1726.7,1141.1 L1728.7,1141.1 L1730.7,1141.1 L1732.7,1141.1 L1734.7,1141.1 L1736.7,1141.1 L1738.7,1141.1 L1740.7,1141.1 L1742.7,1141.1 L1744.7,1141.1 L1746.7,1141.1 L1748.7,1141.1 L1750.7,1141.1 L1752.7,1141.1 L1754.7,1141.1 L1756.7,1141.1 L1758.7,1141.1 L1760.7,1141.1 L1762.7,1141.1 L1764.7,1141.1 L1766.7,1141.1 L1768.7,1141.0 L1770.7,1141.0 L1772.7,1141.0 L1774.7,1141.0 L1776.7,1141.0 L1778.7,1141.0 L1780.7,1141.0 L1782.7,1141.0 L1784.7,1141.0 L1786.7,1141.0 L1788.7,1141.0 L1790.7,1141.0 L1792.7,1141.0 L1794.7,1141.0 L1796.7,1141.0 L1798.7,1141.0 L1800.7,1141.0 L1802.7,1141.0 L1804.7,1141.0 L1806.7,1141.0 L1808.7,1141.0 L1810.7,1141.0 L1812.7,1141.0 L1814.7,1141.0 L1816.7,1141.0 L1818.7,1141.0 L1820.7,1141.0 L1822.7,1141.0 L1824.7,1141.0 L1826.7,1141.0 L1828.7,1141.0 L1830.7,1141.0 L1832.7,1141.0 L1834.7,1141.0 L1836.7,1141.0 L1838.7,1141.0 L1840.7,1141.0 L1842.7,1141.0 L1844.7,1141.0 L1846.7,1141.0 L1848.7,1141.0 L1850.7,1141.0 L1852.7,1141.0 L1854.7,1141.0 L1856.7,1141.0 L1858.7,1141.0 L1860.7,1141.0 L1862.7,1141.0 L1864.7,1141.0 L1866.7,1141.0 L1868.7,1141.0 L1870.7,1140.9 L1872.7,1140.9 L1874.7,1140.9 L1876.7,1140.9 L1878.7,1140.9 L1880.7,1140.9 L1882.7,1140.9 L1884.7,1140.9 L1886.7,1140.9 L1888.7,1140.9 L1890.7,1140.9 L1892.7,1140.9 L1894.7,1140.9 L1896.7,1140.9 L1898.7,1140.9 L1900.7,1140.9 L1902.7,1140.9 L1904.7,1140.9 L1906.7,1140.9 L1908.7,1140.9 L1910.7,1140.9 L1912.7,1140.9 L1914.7,1140.9 L1916.7,1140.9 L1918.7,1140.9 L1920.7,1140.9 L1922.7,1140.9 L1924.7,1140.9 L1926.7,1140.9 L1928.7,1140.9 L1930.7,1140.9 L1932.7,1140.9 L1934.7,1140.9 L1936.7,1140.9 L1938.7,1140.9 L1940.7,1140.9 L1942.7,1140.9 L1944.7,1140.9 L1946.7,1140.9 L1948.7,1140.9 L1950.7,1140.9 L1952.7,1140.9 L1954.7,1140.9 L1956.7,1140.9 L1958.7,1140.9 L1960.7,1140.9 L1962.7,1140.9 L1964.7,1140.9 L1966.7,1140.9 L1968.7,1140.9 L1970.7,1140.9 L1972.7,1140.9 L1974.7,1140.9 L1976.7,1140.9 L1978.7,1140.9 L1980.7,1140.9 L1982.7,1140.9 L1984.7,1140.9 L1986.7,1140.9 L1988.7,1140.9 L1990.7,1140.9 L1992.7,1140.9 L1994.7,1140.9 L1996.7,1140.9 L1998.7,1140.9 L2000.7,1140.9"/>
<path d="M462.6,1215.3 L464.6,1215.3 L466.6,1215.3 L468.6,1215.3 L470.6,1215.3 L472.6,1215.3 L474.6,1215.3 L476.6,1215.3 L478.6,1215.3 L480.6,1215.3 L482.6,1215.3 L484.6,1215.3 L486.6,1215.3 L488.6,1215.3 L490.6,1215.3 L492.6,1215.3 L494.6,1215.3 L496.6,1215.3 L498.6,1215.3 L500.6,1215.3 L502.6,1215.2 L504.6,1215.2 L506.6,1215.2 L508.6,1215.2 L510.6,1215.2 L512.6,1215.2 L514.6,1215.2 L516.6,1215.2 L518.6,1215.2 L520.6,1215.2 L522.6,1215.2 L524.6,1215.2 L526.6,1215.2 L528.6,1215.2 L530.6,1215.2 L532.6,1215.2 L534.6,1215.2 L536.6,1215.2 L538.6,1215.2 L540.6,1215.2 L542.6,1215.2 L544.6,1215.2 L546.6,1215.2 L548.6,1215.2 L550.6,1215.2 L552.6,1215.2 L554.6,1215.2 L556.6,1215.2 L558.6,1215.2 L560.6,1215.2 L562.6,1215.2 L564.6,1215.2 L566.6,1215.2 L568.6,1215.2 L570.6,1215.2 L572.6,1215.2 L574.6,1215.2 L576.6,1215.2 L578.6,1215.2 L580.6,1215.2 L582.6,1215.2 L584.6,1215.2 L586.6,1215.2 L588.6,1215.2 L590.6,1215.2 L592.6,1215.2 L594.6,1215.1 L596.6,1215.1 L598.6,1215.1 L600.6,1215.1 L602.6,1215.1 L604.6,1215.1 L606.6,1215.1 L608.6,1215.1 L610.6,1215.1 L612.6,1215.1 L614.6,1215.1 L616.6,1215.1 L618.6,1215.1 L620.6,1215.1 L622.6,1215.1 L624.6,1215.1 L626.6,1215.1 L628.6,1215.1 L630.6,1215.1 L632.6,1215.1 L634.6,1215.1 L636.6,1215.1 L638.6,1215.1 L640.6,1215.1 L642.6,1215.1 L644.6,1215.1 L646.6,1215.1 L648.6,1215.1 L650.6,1215.1 L652.6,1215.1 L654.6,1215.1 L656.6,1215.0 L658.6,1215.0 L660.6,1215.0 L662.6,1215.0 L664.6,1215.0 L666.6,1215.0 L668.6,1215.0 L670.6,1215.0 L672.6,1215.0 L674.6,1215.0 L676.6,1215.0 L678.6,1215.0 L680.6,1215.0 L682.6,1215.0 L684.6,1215.0 L686.6,1215.0 L688.6,1215.0 L690.6,1215.0 L692.6,1215.0 L694.6,1215.0 L696.6,1215.0 L698.6,1215.0 L700.6,1215.0 L702.6,1214.9 L704.6,1214.9 L706.6,1214.9 L708.6,1214.9 L710.6,1214.9 L712.6,1214.9 L714.6,1214.9 L716.6,1214.9 L718.6,1214.9 L720.6,1214.9 L722.6,1214.9 L724.6,1214.9 L726.6,1214.9 L728.6,1214.9 L730.6,1214.9 L732.6,1214.9 L734.6,1214.9 L736.6,1214.8 L738.6,1214.8 L740.6,1214.8 L742.6,1214.8 L744.6,1214.8 L746.6,1214.8 L748.6,1214.8 L750.6,1214.8 L752.6,1214.8 L754.6,1214.8 L756.6,1214.8 L758.6,1214.8 L760.6,1214.8 L762.6,1214.8 L764.6,1214.7 L766.6,1214.7 L768.6,1214.7 L770.6,1214.7 L772.6,1214.7 L774.6,1214.7 L776.6,1214.7 L778.6,1214.7 L780.6,1214.7 L782.6,1214.7 L784.6,1214.7 L786.6,1214.6 L788.6,1214.6 L790.6,1214.6 L792.6,1214.6 L794.6,1214.6 L796.6,1214.6 L798.6,1214.6 L800.6,1214.5 L802.6,1214.5 L804.6,1214.4 L806.6,1214.3 L808.6,1214.2 L810.6,1214.1 L812.6,1214.1 L814.6,1214.0 L816.6,1213.9 L818.6,1213.8 L820.6,1213.7 L822.6,1213.6 L824.6,1213.5 L826.6,1213.5 L828.6,1213.4 L830.6,1213.3 L832.6,1213.2 L834.6,1213.1 L836.6,1213.0 L838.6,1212.9 L840.6,1212.8 L842.6,1212.7 L844.6,1212.5 L846.6,1212.4 L848.6,1212.3 L850.6,1212.2 L852.6,1212.0 L854.6,1211.9 L856.6,1211.8 L858.6,1211.6 L860.6,1211.4 L862.6,1211.1 L864.6,1210.8 L866.6,1210.5 L868.6,1210.2 L870.6,1209.8 L872.6,1209.5 L874.6,1209.1 L876.6,1208.8 L878.6,1208.4 L880.6,1208.0 L882.6,1207.6 L884.6,1207.2 L886.6,1206.8 L888.6,1206.3 L890.6,1205.9 L892.6,1205.4 L894.6,1204.9 L896.6,1204.4 L898.6,1203.9 L900.6,1203.4 L902.6,1203.0 L904.6,1202.6 L906.6,1202.1 L908.6,1201.6 L910.6,1201.1 L912.6,1200.6 L914.6,1200.1 L916.6,1199.5 L918.6,1199.0 L920.6,1198.4 L922.6,1197.8 L924.6,1197.1 L926.6,1196.5 L928.6,1195.8 L930.6,1195.1 L932.6,1194.4 L934.6,1193.7 L936.6,1193.0 L938.6,1192.3 L940.6,1191.5 L942.6,1190.7 L944.6,1189.9 L946.6,1189.1 L948.6,1188.3 L950.6,1187.5 L952.6,1186.7 L954.6,1185.8 L956.6,1185.0 L958.6,1184.2 L960.6,1183.3 L962.6,1182.5 L964.6,1181.6 L966.6,1180.9 L968.6,1180.3 L970.6,1179.7 L972.6,1179.0 L974.6,1178.4 L976.6,1177.8 L978.6,1177.2 L980.6,1176.6 L982.6,1176.0 L984.6,1175.4 L986.6,1174.8 L988.6,1174.2 L990.6,1173.6 L992.6,1173.1 L994.6,1172.6 L996.6,1172.0 L998.6,1171.5 L1000.6,1171.0 L1002.6,1170.5 L1004.6,1170.0 L1006.6,1169.6 L1008.6,1169.1 L1010.6,1168.7 L1012.6,1168.2 L1014.6,1167.8 L1016.6,1167.4 L1018.6,1167.0 L1020.6,1166.6 L1022.6,1166.2 L1024.7,1165.8 L1026.7,1165.4 L1028.7,1165.0 L1030.7,1164.6 L1032.7,1164.2 L1034.7,1163.8 L1036.7,1163.5 L1038.7,1163.1 L1040.7,1162.8 L1042.7,1162.5 L1044.7,1162.2 L1046.7,1161.9 L1048.7,1161.6 L1050.7,1161.3 L1052.7,1161.0 L1054.7,1160.7 L1056.7,1160.5 L1058.7,1160.2 L1060.7,1160.0 L1062.7,1159.7 L1064.7,1159.5 L1066.7,1159.2 L1068.7,1159.0 L1070.7,1158.7 L1072.7,1158.4 L1074.7,1158.1 L1076.7,1157.9 L1078.7,1157.6 L1080.7,1157.4 L1082.7,1157.1 L1084.7,1156.9 L1086.7,1156.7 L1088.7,1156.4 L1090.7,1156.2 L1092.7,1156.0 L1094.7,1155.8 L1096.7,1155.6 L1098.7,1155.4 L1100.7,1155.2 L1102.7,1155.0 L1104.7,1154.8 L1106.7,1154.6 L1108.7,1154.4 L1110.7,1154.2 L1112.7,1154.0 L1114.7,1153.9 L1116.7,1153.7 L1118.7,1153.5 L1120.7,1153.4 L1122.7,1153.2 L1124.7,1153.0 L1126.7,1152.9 L1128.7,1152.7 L1130.7,1152.6 L1132.7,1152.4 L1134.7,1152.3 L1136.7,1152.1 L1138.7,1152.0 L1140.7,1151.9 L1142.7,1151.7 L1144.7,1151.6 L1146.7,1151.5 L1148.7,1151.3 L1150.7,1151.2 L1152.7,1151.1 L1154.7,1150.9 L1156.7,1150.8 L1158.7,1150.7 L1160.7,1150.6 L1162.7,1150.4 L1164.7,1150.3 L1166.7,1150.2 L1168.7,1150.1 L1170.7,1150.0 L1172.7,1149.9 L1174.7,1149.8 L1176.7,1149.7 L1178.7,1149.5 L1180.7,1149.4 L1182.7,1149.3 L1184.7,1149.2 L1186.7,1149.1 L1188.7,1149.0 L1190.7,1148.9 L1192.7,1148.8 L1194.7,1148.7 L1196.7,1148.6 L1198.7,1148.6 L1200.7,1148.5 L1202.7,1148.4 L1204.7,1148.3 L1206.7,1148.2 L1208.7,1148.1 L1210.7,1148.0 L1212.7,1147.9 L1214.7,1147.9 L1216.7,1147.8 L1218.7,1147.7 L1220.7,1147.6 L1222.7,1147.5 L1224.7,1147.5 L1226.7,1147.4 L1228.7,1147.3 L1230.7,1147.2 L1232.7,1147.1 L1234.7,1147.1 L1236.7,1147.0 L1238.7,1146.9 L1240.7,1146.9 L1242.7,1146.8 L1244.7,1146.7 L1246.7,1146.6 L1248.7,1146.6 L1250.7,1146.5 L1252.7,1146.4 L1254.7,1146.4 L1256.7,1146.3 L1258.7,1146.2 L1260.7,1146.2 L1262.7,1146.1 L1264.7,1146.1 L1266.7,1146.0 L1268.7,1145.9 L1270.7,1145.9 L1272.7,1145.8 L1274.7,1145.7 L1276.7,1145.7 L1278.7,1145.6 L1280.7,1145.5 L1282.7,1145.5 L1284.7,1145.4 L1286.7,1145.4 L1288.7,1145.3 L1290.7,1145.2 L1292.7,1145.2 L1294.7,1145.1 L1296.7,1145.1 L1298.7,1145.0 L1300.7,1144.9 L1302.7,1144.9 L1304.7,1144.8 L1306.7,1144.8 L1308.7,1144.7 L1310.7,1144.6 L1312.7,1144.6 L1314.7,1144.5 L1316.7,1144.5 L1318.7,1144.4 L1320.7,1144.4 L1322.7,1144.3 L1324.7,1144.2 L1326.7,1144.2 L1328.7,1144.1 L1330.7,1144.1 L1332.7,1144.0 L1334.7,1143.9 L1336.7,1143.9 L1338.7,1143.8 L1340.7,1143.8 L1342.7,1143.7 L1344.7,1143.7 L1346.7,1143.6 L1348.7,1143.5 L1350.7,1143.5 L1352.7,1143.4 L1354.7,1143.4 L1356.7,1143.3 L1358.7,1143.3 L1360.7,1143.2 L1362.7,1143.2 L1364.7,1143.1 L1366.7,1143.1 L1368.7,1143.0 L1370.7,1143.0 L1372.7,1142.9 L1374.7,1142.9 L1376.7,1142.8 L1378.7,1142.8 L1380.7,1142.7 L1382.7,1142.7 L1384.7,1142.6 L1386.7,1142.6 L1388.7,1142.5 L1390.7,1142.5 L1392.7,1142.4 L1394.7,1142.4 L1396.7,1142.3 L1398.7,1142.3 L1400.7,1142.2 L1402.7,1142.2 L1404.7,1142.1 L1406.7,1142.1 L1408.7,1142.1 L1410.7,1142.0 L1412.7,1142.0 L1414.7,1141.9 L1416.7,1141.9 L1418.7,1141.8 L1420.7,1141.8 L1422.7,1141.8 L1424.7,1141.7 L1426.7,1141.7 L1428.7,1141.6 L1430.7,1141.6 L1432.7,1141.6 L1434.7,1141.5 L1436.7,1141.5 L1438.7,1141.5 L1440.7,1141.4 L1442.7,1141.4 L1444.7,1141.3 L1446.7,1141.3 L1448.7,1141.3 L1450.7,1141.2 L1452.7,1141.2 L1454.7,1141.2 L1456.7,1141.1 L1458.7,1141.1 L1460.7,1141.1 L1462.7,1141.0 L1464.7,1141.0 L1466.7,1141.0 L1468.7,1140.9 L1470.7,1140.9 L1472.7,1140.9 L1474.7,1140.8 L1476.7,1140.8 L1478.7,1140.8 L1480.7,1140.7 L1482.7,1140.7 L1484.7,1140.7 L1486.7,1140.6 L1488.7,1140.6 L1490.7,1140.6 L1492.7,1140.5 L1494.7,1140.5 L1496.7,1140.5 L1498.7,1140.4 L1500.7,1140.4 L1502.7,1140.4 L1504.7,1140.3 L1506.7,1140.3 L1508.7,1140.3 L1510.7,1140.2 L1512.7,1140.2 L1514.7,1140.2 L1516.7,1140.2 L1518.7,1140.1 L1520.7,1140.1 L1522.7,1140.1 L1524.7,1140.0 L1526.7,1140.0 L1528.7,1140.0 L1530.7,1139.9 L1532.7,1139.9 L1534.7,1139.9 L1536.7,1139.9 L1538.7,1139.8 L1540.7,1139.8 L1542.7,1139.8 L1544.7,1139.8 L1546.7,1139.7 L1548.7,1139.7 L1550.7,1139.7 L1552.7,1139.7 L1554.7,1139.6 L1556.7,1139.6 L1558.7,1139.6 L1560.7,1139.6 L1562.7,1139.5 L1564.7,1139.5 L1566.7,1139.5 L1568.7,1139.5 L1570.7,1139.5 L1572.7,1139.4 L1574.7,1139.4 L1576.7,1139.4 L1578.7,1139.4 L1580.7,1139.4 L1582.7,1139.3 L1584.7,1139.3 L1586.7,1139.3 L1588.7,1139.3 L1590.7,1139.3 L1592.7,1139.3 L1594.7,1139.2 L1596.7,1139.2 L1598.7,1139.2 L1600.7,1139.2 L1602.7,1139.2 L1604.7,1139.2 L1606.7,1139.1 L1608.7,1139.1 L1610.7,1139.1 L1612.7,1139.1 L1614.7,1139.1 L1616.7,1139.1 L1618.7,1139.0 L1620.7,1139.0 L1622.7,1139.0 L1624.7,1139.0 L1626.7,1139.0 L1628.7,1139.0 L1630.7,1139.0 L1632.7,1138.9 L1634.7,1138.9 L1636.7,1138.9 L1638.7,1138.9 L1640.7,1138.9 L1642.7,1138.9 L1644.7,1138.9 L1646.7,1138.9 L1648.7,1138.9 L1650.7,1138.8 L1652.7,1138.8 L1654.7,1138.8 L1656.7,1138.8 L1658.7,1138.8 L1660.7,1138.8 L1662.7,1138.8 L1664.7,1138.8 L1666.7,1138.8 L1668.7,1138.8 L1670.7,1138.8 L1672.7,1138.8 L1674.7,1138.7 L1676.7,1138.7 L1678.7,1138.7 L1680.7,1138.7 L1682.7,1138.7 L1684.7,1138.7 L1686.7,1138.7 L1688.7,1138.7 L1690.7,1138.7 L1692.7,1138.7 L1694.7,1138.7 L1696.7,1138.7 L1698.7,1138.7 L1700.7,1138.7 L1702.7,1138.7 L1704.7,1138.7 L1706.7,1138.7 L1708.7,1138.6 L1710.7,1138.6 L1712.7,1138.6 L1714.7,1138.6 L1716.7,1138.6 L1718.7,1138.6 L1720.7,1138.6 L1722.7,1138.6 L1724.7,1138.6 L1726.7,1138.6 L1728.7,1138.6 L1730.7,1138.6 L1732.7,1138.6 L1734.7,1138.6 L1736.7,1138.6 L1738.7,1138.6 L1740.7,1138.6 L1742.7,1138.6 L1744.7,1138.6 L1746.7,1138.6 L1748.7,1138.6 L1750.7,1138.6 L1752.7,1138.6 L1754.7,1138.6 L1756.7,1138.6 L1758.7,1138.6 L1760.7,1138.6 L1762.7,1138.6 L1764.7,1138.6 L1766.7,1138.6 L1768.7,1138.5 L1770.7,1138.5 L1772.7,1138.5 L1774.7,1138.5 L1776.7,1138.5 L1778.7,1138.5 L1780.7,1138.5 L1782.7,1138.5 L1784.7,1138.5 L1786.7,1138.5 L1788.7,1138.5 L1790.7,1138.5 L1792.7,1138.5 L1794.7,1138.5 L1796.7,1138.5 L1798.7,1138.5 L1800.7,1138.5 L1802.7,1138.5 L1804.7,1138.5 L1806.7,1138.5 L1808.7,1138.5 L1810.7,1138.5 L1812.7,1138.5 L1814.7,1138.5 L1816.7,1138.5 L1818.7,1138.5 L1820.7,1138.5 L1822.7,1138.5 L1824.7,1138.5 L1826.7,1138.5 L1828.7,1138.5 L1830.7,1138.5 L1832.7,1138.5 L1834.7,1138.5 L1836.7,1138.5 L1838.7,1138.5 L1840.7,1138.5 L1842.7,1138.5 L1844.7,1138.5 L1846.7,1138.5 L1848.7,1138.5 L1850.7,1138.5 L1852.7,1138.5 L1854.7,1138.5 L1856.7,1138.5 L1858.7,1138.5 L1860.7,1138.5 L1862.7,1138.5 L1864.7,1138.5 L1866.7,1138.5 L1868.7,1138.5 L1870.7,1138.4 L1872.7,1138.4 L1874.7,1138.4 L1876.7,1138.4 L1878.7,1138.4 L1880.7,1138.4 L1882.7,1138.4 L1884.7,1138.4 L1886.7,1138.4 L1888.7,1138.4 L1890.7,1138.4 L1892.7,1138.4 L1894.7,1138.4 L1896.7,1138.4 L1898.7,1138.4 L1900.7,1138.4 L1902.7,1138.4 L1904.7,1138.4 L1906.7,1138.4 L1908.7,1138.4 L1910.7,1138.4 L1912.7,1138.4 L1914.7,1138.4 L1916.7,1138.4 L1918.7,1138.4 L1920.7,1138.4 L1922.7,1138.4 L1924.7,1138.4 L1926.7,1138.4 L1928.7,1138.4 L1930.7,1138.4 L1932.7,1138.4 L1934.7,1138.4 L1936.7,1138.4 L1938.7,1138.4 L1940.7,1138.4 L1942.7,1138.4 L1944.7,1138.4 L1946.7,1138.4 L1948.7,1138.4 L1950.7,1138.4 L1952.7,1138.4 L1954.7,1138.4 L1956.7,1138.4 L1958.7,1138.4 L1960.7,1138.4 L1962.7,1138.4 L1964.7,1138.4 L1966.7,1138.4 L1968.7,1138.4 L1970.7,1138.4 L1972.7,1138.4 L1974.7,1138.4 L1976.7,1138.4 L1978.7,1138.4 L1980.7,1138.4 L1982.7,1138.4 L1984.7,1138.4 L1986.7,1138.4 L1988.7,1138.4 L1990.7,1138.4 L1992.7,1138.4 L1994.7,1138.4 L1996.7,1138.4 L1998.7,1138.4 L2000.7,1138.4"/>
<path d="M462.6,1212.6 L464.6,1212.6 L466.6,1212.6 L468.6,1212.6 L470.6,1212.5 L472.6,1212.5 L474.6,1212.5 L476.6,1212.5 L478.6,1212.5 L480.6,1212.5 L482.6,1212.5 L484.6,1212.4 L486.6,1212.4 L488.6,1212.4 L490.6,1212.4 L492.6,1212.4 L494.6,1212.4 L496.6,1212.4 L498.6,1212.3 L500.6,1212.3 L502.6,1212.3 L504.6,1212.3 L506.6,1212.3 L508.6,1212.3 L510.6,1212.2 L512.6,1212.2 L514.6,1212.2 L516.6,1212.2 L518.6,1212.2 L520.6,1212.1 L522.6,1212.1 L524.6,1212.1 L526.6,1212.1 L528.6,1212.1 L530.6,1212.0 L532.6,1212.0 L534.6,1212.0 L536.6,1212.0 L538.6,1212.0 L540.6,1211.9 L542.6,1211.9 L544.6,1211.9 L546.6,1211.9 L548.6,1211.9 L550.6,1211.8 L552.6,1211.8 L554.6,1211.8 L556.6,1211.8 L558.6,1211.7 L560.6,1211.7 L562.6,1211.7 L564.6,1211.7 L566.6,1211.6 L568.6,1211.6 L570.6,1211.6 L572.6,1211.6 L574.6,1211.5 L576.6,1211.5 L578.6,1211.5 L580.6,1211.4 L582.6,1211.4 L584.6,1211.4 L586.6,1211.4 L588.6,1211.3 L590.6,1211.3 L592.6,1211.3 L594.6,1211.2 L596.6,1211.2 L598.6,1211.2 L600.6,1211.1 L602.6,1211.1 L604.6,1211.1 L606.6,1211.0 L608.6,1211.0 L610.6,1211.0 L612.6,1210.9 L614.6,1210.9 L616.6,1210.9 L618.6,1210.8 L620.6,1210.8 L622.6,1210.7 L624.6,1210.7 L626.6,1210.7 L628.6,1210.6 L630.6,1210.6 L632.6,1210.5 L634.6,1210.5 L636.6,1210.4 L638.6,1210.4 L640.6,1210.4 L642.6,1210.3 L644.6,1210.3 L646.6,1210.2 L648.6,1210.2 L650.6,1210.1 L652.6,1210.1 L654.6,1210.0 L656.6,1210.0 L658.6,1209.9 L660.6,1209.8 L662.6,1209.8 L664.6,1209.7 L666.6,1209.7 L668.6,1209.6 L670.6,1209.6 L672.6,1209.5 L674.6,1209.4 L676.6,1209.4 L678.6,1209.3 L680.6,1209.2 L682.6,1209.2 L684.6,1209.1 L686.6,1209.0 L688.6,1209.0 L690.6,1208.9 L692.6,1208.8 L694.6,1208.7 L696.6,1208.7 L698.6,1208.6 L700.6,1208.5 L702.6,1208.4 L704.6,1208.3 L706.6,1208.2 L708.6,1208.2 L710.6,1208.1 L712.6,1208.0 L714.6,1207.9 L716.6,1207.8 L718.6,1207.7 L720.6,1207.6 L722.6,1207.5 L724.6,1207.4 L726.6,1207.3 L728.6,1207.1 L730.6,1207.0 L732.6,1206.9 L734.6,1206.8 L736.6,1206.7 L738.6,1206.5 L740.6,1206.4 L742.6,1206.3 L744.6,1206.1 L746.6,1206.0 L748.6,1205.8 L750.6,1205.7 L752.6,1205.5 L754.6,1205.4 L756.6,1205.2 L758.6,1205.0 L760.6,1204.8 L762.6,1204.6 L764.6,1204.4 L766.6,1204.2 L768.6,1204.0 L770.6,1203.8 L772.6,1203.5 L774.6,1203.3 L776.6,1203.0 L778.6,1202.7 L780.6,1202.4 L782.6,1202.1 L784.6,1201.7 L786.6,1201.3 L788.6,1200.9 L790.6,1200.5 L792.6,1200.0 L794.6,1199.4 L796.6,1198.9 L798.6,1198.3 L800.6,1197.6 L802.6,1196.9 L804.6,1196.0 L806.6,1195.2 L808.6,1194.2 L810.6,1193.1 L812.6,1192.0 L814.6,1190.7 L816.6,1189.3 L818.6,1187.8 L820.6,1186.1 L822.6,1184.3 L824.6,1182.2 L826.6,1180.0 L828.6,1177.6 L830.6,1175.0 L832.6,1172.1 L834.6,1168.9 L836.6,1165.5 L838.6,1161.7 L840.6,1157.7 L842.6,1153.2 L844.6,1148.4 L846.6,1143.2 L848.6,1137.6 L850.6,1131.5 L852.6,1125.0 L854.6,1117.9 L856.6,1110.4 L858.6,1102.3 L860.6,1093.6 L862.6,1084.3 L864.6,1074.4 L866.6,1063.9 L868.6,1052.7 L870.6,1040.8 L872.6,1028.3 L874.6,1015.0 L876.6,1001.1 L878.6,986.4 L880.6,971.0 L882.6,954.9 L884.6,938.0 L886.6,920.4 L888.6,902.2 L890.6,883.2 L892.6,863.6 L894.6,843.3 L896.6,822.4 L898.6,800.9 L900.6,778.9 L902.6,756.4 L904.6,733.5 L906.6,710.2 L908.6,686.5 L910.6,662.6 L912.6,638.5 L914.6,614.3 L916.6,590.1 L918.6,565.9 L920.6,541.8 L922.6,518.0 L924.6,494.5 L926.6,471.4 L928.6,448.8 L930.6,426.9 L932.6,405.6 L934.6,385.2 L936.6,365.8 L938.6,347.3 L940.6,330.0 L942.6,313.9 L944.6,299.1 L946.6,285.7 L948.6,273.8 L950.6,263.5 L952.6,254.8 L954.6,247.7 L956.6,242.4 L958.6,238.8 L960.6,237.0 L962.6,236.8 L964.6,238.1 L966.6,240.8 L968.6,245.0 L970.6,250.6 L972.6,257.5 L974.6,265.7 L976.6,275.2 L978.6,285.9 L980.6,297.8 L982.6,310.7 L984.6,324.6 L986.6,339.4 L988.6,355.1 L990.6,371.5 L992.6,388.7 L994.6,406.5 L996.6,424.8 L998.6,443.6 L1000.6,462.8 L1002.6,482.3 L1004.6,502.1 L1006.6,522.1 L1008.6,542.2 L1010.6,562.4 L1012.6,582.6 L1014.6,602.8 L1016.6,622.8 L1018.6,642.8 L1020.6,662.5 L1022.6,682.0 L1024.7,701.2 L1026.7,720.1 L1028.7,738.7 L1030.7,756.9 L1032.7,774.7 L1034.7,792.0 L1036.7,808.9 L1038.7,825.4 L1040.7,841.3 L1042.7,856.7 L1044.7,871.7 L1046.7,886.1 L1048.7,900.0 L1050.7,913.3 L1052.7,926.1 L1054.7,938.4 L1056.7,950.2 L1058.7,961.5 L1060.7,972.2 L1062.7,982.4 L1064.7,992.1 L1066.7,1001.3 L1068.7,1010.1 L1070.7,1018.4 L1072.7,1026.2 L1074.7,1033.6 L1076.7,1040.6 L1078.7,1047.2 L1080.7,1053.3 L1082.7,1059.1 L1084.7,1064.6 L1086.7,1069.7 L1088.7,1074.4 L1090.7,1078.9 L1092.7,1083.1 L1094.7,1086.9 L1096.7,1090.6 L1098.7,1093.9 L1100.7,1097.0 L1102.7,1099.9 L1104.7,1102.6 L1106.7,1105.1 L1108.7,1107.5 L1110.7,1109.6 L1112.7,1111.6 L1114.7,1113.4 L1116.7,1115.1 L1118.7,1116.7 L1120.7,1118.1 L1122.7,1119.5 L1124.7,1120.7 L1126.7,1121.9 L1128.7,1122.9 L1130.7,1123.9 L1132.7,1124.8 L1134.7,1125.6 L1136.7,1126.4 L1138.7,1127.1 L1140.7,1127.8 L1142.7,1128.4 L1144.7,1129.0 L1146.7,1129.5 L1148.7,1130.0 L1150.7,1130.4 L1152.7,1130.9 L1154.7,1131.3 L1156.7,1131.6 L1158.7,1132.0 L1160.7,1132.3 L1162.7,1132.6 L1164.7,1132.9 L1166.7,1133.2 L1168.7,1133.4 L1170.7,1133.7 L1172.7,1133.9 L1174.7,1134.1 L1176.7,1134.3 L1178.7,1134.5 L1180.7,1134.7 L1182.7,1134.9 L1184.7,1135.1 L1186.7,1135.2 L1188.7,1135.4 L1190.7,1135.6 L1192.7,1135.7 L1194.7,1135.8 L1196.7,1136.0 L1198.7,1136.1 L1200.7,1136.2 L1202.7,1136.3 L1204.7,1136.5 L1206.7,1136.6 L1208.7,1136.7 L1210.7,1136.8 L1212.7,1136.9 L1214.7,1137.0 L1216.7,1137.1 L1218.7,1137.2 L1220.7,1137.3 L1222.7,1137.3 L1224.7,1137.4 L1226.7,1137.5 L1228.7,1137.6 L1230.7,1137.7 L1232.7,1137.7 L1234.7,1137.8 L1236.7,1137.9 L1238.7,1137.9 L1240.7,1138.0 L1242.7,1138.1 L1244.7,1138.1 L1246.7,1138.2 L1248.7,1138.2 L1250.7,1138.3 L1252.7,1138.3 L1254.7,1138.4 L1256.7,1138.4 L1258.7,1138.5 L1260.7,1138.5 L1262.7,1138.6 L1264.7,1138.6 L1266.7,1138.7 L1268.7,1138.7 L1270.7,1138.7 L1272.7,1138.8 L1274.7,1138.8 L1276.7,1138.8 L1278.7,1138.9 L1280.7,1138.9 L1282.7,1138.9 L1284.7,1139.0 L1286.7,1139.0 L1288.7,1139.0 L1290.7,1139.0 L1292.7,1139.0 L1294.7,1139.1 L1296.7,1139.1 L1298.7,1139.1 L1300.7,1139.1 L1302.7,1139.1 L1304.7,1139.1 L1306.7,1139.2 L1308.7,1139.2 L1310.7,1139.2 L1312.7,1139.2 L1314.7,1139.2 L1316.7,1139.2 L1318.7,1139.2 L1320.7,1139.2 L1322.7,1139.2 L1324.7,1139.2 L1326.7,1139.2 L1328.7,1139.2 L1330.7,1139.2 L1332.7,1139.2 L1334.7,1139.2 L1336.7,1139.2 L1338.7,1139.2 L1340.7,1139.2 L1342.7,1139.2 L1344.7,1139.2 L1346.7,1139.2 L1348.7,1139.2 L1350.7,1139.2 L1352.7,1139.2 L1354.7,1139.2 L1356.7,1139.2 L1358.7,1139.2 L1360.7,1139.2 L1362.7,1139.1 L1364.7,1139.1 L1366.7,1139.1 L1368.7,1139.1 L1370.7,1139.1 L1372.7,1139.1 L1374.7,1139.1 L1376.7,1139.1 L1378.7,1139.1 L1380.7,1139.1 L1382.7,1139.0 L1384.7,1139.0 L1386.7,1139.0 L1388.7,1139.0 L1390.7,1139.0 L1392.7,1139.0 L1394.7,1139.0 L1396.7,1139.0 L1398.7,1139.0 L1400.7,1138.9 L1402.7,1138.9 L1404.7,1138.9 L1406.7,1138.9 L1408.7,1138.9 L1410.7,1138.9 L1412.7,1138.9 L1414.7,1138.9 L1416.7,1138.8 L1418.7,1138.8 L1420.7,1138.8 L1422.7,1138.8 L1424.7,1138.8 L1426.7,1138.8 L1428.7,1138.8 L1430.7,1138.8 L1432.7,1138.8 L1434.7,1138.7 L1436.7,1138.7 L1438.7,1138.7 L1440.7,1138.7 L1442.7,1138.7 L1444.7,1138.7 L1446.7,1138.7 L1448.7,1138.7 L1450.7,1138.6 L1452.7,1138.6 L1454.7,1138.6 L1456.7,1138.6 L1458.7,1138.6 L1460.7,1138.6 L1462.7,1138.6 L1464.7,1138.6 L1466.7,1138.5 L1468.7,1138.5 L1470.7,1138.5 L1472.7,1138.5 L1474.7,1138.5 L1476.7,1138.5 L1478.7,1138.5 L1480.7,1138.4 L1482.7,1138.4 L1484.7,1138.4 L1486.7,1138.4 L1488.7,1138.4 L1490.7,1138.4 L1492.7,1138.4 L1494.7,1138.3 L1496.7,1138.3 L1498.7,1138.3 L1500.7,1138.3 L1502.7,1138.3 L1504.7,1138.3 L1506.7,1138.2 L1508.7,1138.2 L1510.7,1138.2 L1512.7,1138.2 L1514.7,1138.2 L1516.7,1138.2 L1518.7,1138.2 L1520.7,1138.1 L1522.7,1138.1 L1524.7,1138.1 L1526.7,1138.1 L1528.7,1138.1 L1530.7,1138.1 L1532.7,1138.0 L1534.7,1138.0 L1536.7,1138.0 L1538.7,1138.0 L1540.7,1138.0 L1542.7,1138.0 L1544.7,1138.0 L1546.7,1137.9 L1548.7,1137.9 L1550.7,1137.9 L1552.7,1137.9 L1554.7,1137.9 L1556.7,1137.9 L1558.7,1137.9 L1560.7,1137.9 L1562.7,1137.8 L1564.7,1137.8 L1566.7,1137.8 L1568.7,1137.8 L1570.7,1137.8 L1572.7,1137.8 L1574.7,1137.8 L1576.7,1137.8 L1578.7,1137.8 L1580.7,1137.7 L1582.7,1137.7 L1584.7,1137.7 L1586.7,1137.7 L1588.7,1137.7 L1590.7,1137.7 L1592.7,1137.7 L1594.7,1137.7 L1596.7,1137.7 L1598.7,1137.7 L1600.7,1137.7 L1602.7,1137.7 L1604.7,1137.7 L1606.7,1137.7 L1608.7,1137.6 L1610.7,1137.6 L1612.7,1137.6 L1614.7,1137.6 L1616.7,1137.6 L1618.7,1137.6 L1620.7,1137.6 L1622.7,1137.6 L1624.7,1137.6 L1626.7,1137.6 L1628.7,1137.6 L1630.7,1137.6 L1632.7,1137.6 L1634.7,1137.6 L1636.7,1137.6 L1638.7,1137.6 L1640.7,1137.6 L1642.7,1137.6 L1644.7,1137.6 L1646.7,1137.6 L1648.7,1137.6 L1650.7,1137.6 L1652.7,1137.6 L1654.7,1137.6 L1656.7,1137.6 L1658.7,1137.6 L1660.7,1137.6 L1662.7,1137.6 L1664.7,1137.6 L1666.7,1137.6 L1668.7,1137.6 L1670.7,1137.6 L1672.7,1137.6 L1674.7,1137.6 L1676.7,1137.6 L1678.7,1137.6 L1680.7,1137.6 L1682.7,1137.6 L1684.7,1137.6 L1686.7,1137.6 L1688.7,1137.6 L1690.7,1137.6 L1692.7,1137.6 L1694.7,1137.6 L1696.7,1137.6 L1698.7,1137.6 L1700.7,1137.7 L1702.7,1137.7 L1704.7,1137.7 L1706.7,1137.7 L1708.7,1137.7 L1710.7,1137.7 L1712.7,1137.7 L1714.7,1137.7 L1716.7,1137.7 L1718.7,1137.7 L1720.7,1137.7 L1722.7,1137.7 L1724.7,1137.7 L1726.7,1137.7 L1728.7,1137.7 L1730.7,1137.7 L1732.7,1137.7 L1734.7,1137.7 L1736.7,1137.7 L1738.7,1137.7 L1740.7,1137.7 L1742.7,1137.7 L1744.7,1137.7 L1746.7,1137.7 L1748.7,1137.7 L1750.7,1137.7 L1752.7,1137.7 L1754.7,1137.7 L1756.7,1137.8 L1758.7,1137.8 L1760.7,1137.8 L1762.7,1137.8 L1764.7,1137.8 L1766.7,1137.8 L1768.7,1137.8 L1770.7,1137.8 L1772.7,1137.8 L1774.7,1137.8 L1776.7,1137.8 L1778.7,1137.8 L1780.7,1137.8 L1782.7,1137.8 L1784.7,1137.8 L1786.7,1137.8 L1788.7,1137.8 L1790.7,1137.8 L1792.7,1137.8 L1794.7,1137.8 L1796.7,1137.8 L1798.7,1137.8 L1800.7,1137.8 L1802.7,1137.8 L1804.7,1137.8 L1806.7,1137.8 L1808.7,1137.8 L1810.7,1137.9 L1812.7,1137.9 L1814.7,1137.9 L1816.7,1137.9 L1818.7,1137.9 L1820.7,1137.9 L1822.7,1137.9 L1824.7,1137.9 L1826.7,1137.9 L1828.7,1137.9 L1830.7,1137.9 L1832.7,1137.9 L1834.7,1137.9 L1836.7,1137.9 L1838.7,1137.9 L1840.7,1137.9 L1842.7,1137.9 L1844.7,1137.9 L1846.7,1137.9 L1848.7,1137.9 L1850.7,1137.9 L1852.7,1137.9 L1854.7,1137.9 L1856.7,1137.9 L1858.7,1137.9 L1860.7,1137.9 L1862.7,1137.9 L1864.7,1137.9 L1866.7,1137.9 L1868.7,1137.9 L1870.7,1137.9 L1872.7,1137.9 L1874.7,1137.9 L1876.7,1138.0 L1878.7,1138.0 L1880.7,1138.0 L1882.7,1138.0 L1884.7,1138.0 L1886.7,1138.0 L1888.7,1138.0 L1890.7,1138.0 L1892.7,1138.0 L1894.7,1138.0 L1896.7,1138.0 L1898.7,1138.0 L1900.7,1138.0 L1902.7,1138.0 L1904.7,1138.0 L1906.7,1138.0 L1908.7,1138.0 L1910.7,1138.0 L1912.7,1138.0 L1914.7,1138.0 L1916.7,1138.0 L1918.7,1138.0 L1920.7,1138.0 L1922.7,1138.0 L1924.7,1138.0 L1926.7,1138.0 L1928.7,1138.0 L1930.7,1138.0 L1932.7,1138.0 L1934.7,1138.0 L1936.7,1138.0 L1938.7,1138.0 L1940.7,1138.0 L1942.7,1138.0 L1944.7,1138.0 L1946.7,1138.0 L1948.7,1138.0 L1950.7,1138.0 L1952.7,1138.0 L1954.7,1138.0 L1956.7,1138.0 L1958.7,1138.1 L1960.7,1138.1 L1962.7,1138.1 L1964.7,1138.1 L1966.7,1138.1 L1968.7,1138.1 L1970.7,1138.1 L1972.7,1138.1 L1974.7,1138.1 L1976.7,1138.1 L1978.7,1138.1 L1980.7,1138.1 L1982.7,1138.1 L1984.7,1138.1 L1986.7,1138.1 L1988.7,1138.1 L1990.7,1138.1 L1992.7,1138.1 L1994.7,1138.1 L1996.7,1138.1 L1998.7,1138.1 L2000.7,1138.1"/>
<path d="M462.6,1213.9 L464.6,1213.9 L466.6,1213.9 L468.6,1213.9 L470.6,1213.9 L472.6,1213.9 L474.6,1213.9 L476.6,1213.9 L478.6,1213.9 L480.6,1213.9 L482.6,1213.9 L484.6,1213.9 L486.6,1213.9 L488.6,1213.9 L490.6,1213.9 L492.6,1213.9 L494.6,1213.9 L496.6,1213.9 L498.6,1213.8 L500.6,1213.8 L502.6,1213.8 L504.6,1213.8 L506.6,1213.8 L508.6,1213.8 L510.6,1213.8 L512.6,1213.8 L514.6,1213.8 L516.6,1213.8 L518.6,1213.8 L520.6,1213.8 L522.6,1213.8 L524.6,1213.8 L526.6,1213.8 L528.6,1213.8 L530.6,1213.8 L532.6,1213.8 L534.6,1213.8 L536.6,1213.8 L538.6,1213.8 L540.6,1213.8 L542.6,1213.8 L544.6,1213.8 L546.6,1213.8 L548.6,1213.8 L550.6,1213.8 L552.6,1213.8 L554.6,1213.7 L556.6,1213.7 L558.6,1213.7 L560.6,1213.7 L562.6,1213.7 L564.6,1213.7 L566.6,1213.7 L568.6,1213.7 L570.6,1213.7 L572.6,1213.7 L574.6,1213.7 L576.6,1213.7 L578.6,1213.7 L580.6,1213.7 L582.6,1213.7 L584.6,1213.7 L586.6,1213.7 L588.6,1213.7 L590.6,1213.7 L592.6,1213.7 L594.6,1213.7 L596.6,1213.6 L598.6,1213.6 L600.6,1213.6 L602.6,1213.6 L604.6,1213.6 L606.6,1213.6 L608.6,1213.6 L610.6,1213.6 L612.6,1213.6 L614.6,1213.6 L616.6,1213.6 L618.6,1213.6 L620.6,1213.6 L622.6,1213.6 L624.6,1213.6 L626.6,1213.6 L628.6,1213.6 L630.6,1213.6 L632.6,1213.5 L634.6,1213.5 L636.6,1213.5 L638.6,1213.5 L640.6,1213.5 L642.6,1213.5 L644.6,1213.5 L646.6,1213.5 L648.6,1213.5 L650.6,1213.5 L652.6,1213.5 L654.6,1213.5 L656.6,1213.5 L658.6,1213.5 L660.6,1213.4 L662.6,1213.4 L664.6,1213.4 L666.6,1213.4 L668.6,1213.4 L670.6,1213.4 L672.6,1213.4 L674.6,1213.4 L676.6,1213.4 L678.6,1213.4 L680.6,1213.4 L682.6,1213.4 L684.6,1213.3 L686.6,1213.3 L688.6,1213.3 L690.6,1213.3 L692.6,1213.3 L694.6,1213.3 L696.6,1213.3 L698.6,1213.3 L700.6,1213.3 L702.6,1213.3 L704.6,1213.2 L706.6,1213.2 L708.6,1213.2 L710.6,1213.2 L712.6,1213.2 L714.6,1213.2 L716.6,1213.2 L718.6,1213.2 L720.6,1213.2 L722.6,1213.1 L724.6,1213.1 L726.6,1213.1 L728.6,1213.1 L730.6,1213.1 L732.6,1213.1 L734.6,1213.1 L736.6,1213.1 L738.6,1213.0 L740.6,1213.0 L742.6,1213.0 L744.6,1213.0 L746.6,1213.0 L748.6,1213.0 L750.6,1213.0 L752.6,1212.9 L754.6,1212.9 L756.6,1212.9 L758.6,1212.9 L760.6,1212.9 L762.6,1212.9 L764.6,1212.8 L766.6,1212.8 L768.6,1212.8 L770.6,1212.8 L772.6,1212.8 L774.6,1212.7 L776.6,1212.7 L778.6,1212.7 L780.6,1212.7 L782.6,1212.7 L784.6,1212.6 L786.6,1212.6 L788.6,1212.6 L790.6,1212.6 L792.6,1212.6 L794.6,1212.5 L796.6,1212.5 L798.6,1212.5 L800.6,1212.5 L802.6,1212.4 L804.6,1212.4 L806.6,1212.4 L808.6,1212.3 L810.6,1212.3 L812.6,1212.3 L814.6,1212.2 L816.6,1212.2 L818.6,1212.2 L820.6,1212.1 L822.6,1212.1 L824.6,1212.0 L826.6,1212.0 L828.6,1211.9 L830.6,1211.9 L832.6,1211.8 L834.6,1211.8 L836.6,1211.7 L838.6,1211.6 L840.6,1211.5 L842.6,1211.5 L844.6,1211.4 L846.6,1211.3 L848.6,1211.2 L850.6,1211.1 L852.6,1211.0 L854.6,1210.8 L856.6,1210.7 L858.6,1210.6 L860.6,1210.4 L862.6,1210.3 L864.6,1210.1 L866.6,1209.9 L868.6,1209.7 L870.6,1209.4 L872.6,1209.2 L874.6,1208.9 L876.6,1208.7 L878.6,1208.4 L880.6,1208.0 L882.6,1207.7 L884.6,1207.3 L886.6,1206.9 L888.6,1206.5 L890.6,1206.0 L892.6,1205.5 L894.6,1205.0 L896.6,1204.4 L898.6,1203.8 L900.6,1203.1 L902.6,1202.4 L904.6,1201.7 L906.6,1200.9 L908.6,1200.1 L910.6,1199.2 L912.6,1198.2 L914.6,1197.2 L916.6,1196.1 L918.6,1195.0 L920.6,1193.8 L922.6,1192.5 L924.6,1191.2 L926.6,1189.8 L928.6,1188.3 L930.6,1186.7 L932.6,1185.1 L934.6,1183.4 L936.6,1181.6 L938.6,1179.7 L940.6,1177.7 L942.6,1175.6 L944.6,1173.5 L946.6,1171.2 L948.6,1168.9 L950.6,1166.4 L952.6,1163.9 L954.6,1161.3 L956.6,1158.6 L958.6,1155.7 L960.6,1152.8 L962.6,1149.8 L964.6,1146.7 L966.6,1143.5 L968.6,1140.2 L970.6,1136.9 L972.6,1133.4 L974.6,1129.9 L976.6,1126.2 L978.6,1122.5 L980.6,1118.7 L982.6,1114.9 L984.6,1110.9 L986.6,1106.9 L988.6,1102.9 L990.6,1098.8 L992.6,1094.6 L994.6,1090.4 L996.6,1086.2 L998.6,1082.0 L1000.6,1077.7 L1002.6,1073.4 L1004.6,1069.1 L1006.6,1064.8 L1008.6,1060.6 L1010.6,1056.3 L1012.6,1052.1 L1014.6,1047.9 L1016.6,1043.8 L1018.6,1039.8 L1020.6,1035.8 L1022.6,1031.9 L1024.7,1028.1 L1026.7,1024.4 L1028.7,1020.8 L1030.7,1017.3 L1032.7,1014.0 L1034.7,1010.8 L1036.7,1007.8 L1038.7,1005.0 L1040.7,1002.3 L1042.7,999.8 L1044.7,997.5 L1046.7,995.4 L1048.7,993.5 L1050.7,991.8 L1052.7,990.3 L1054.7,989.1 L1056.7,988.0 L1058.7,987.2 L1060.7,986.7 L1062.7,986.3 L1064.7,986.2 L1066.7,986.4 L1068.7,986.7 L1070.7,987.3 L1072.7,988.1 L1074.7,989.2 L1076.7,990.4 L1078.7,991.8 L1080.7,993.5 L1082.7,995.3 L1084.7,997.3 L1086.7,999.5 L1088.7,1001.8 L1090.7,1004.3 L1092.7,1006.9 L1094.7,1009.7 L1096.7,1012.5 L1098.7,1015.5 L1100.7,1018.6 L1102.7,1021.8 L1104.7,1025.0 L1106.7,1028.4 L1108.7,1031.7 L1110.7,1035.2 L1112.7,1038.6 L1114.7,1042.1 L1116.7,1045.6 L1118.7,1049.1 L1120.7,1052.6 L1122.7,1056.1 L1124.7,1059.6 L1126.7,1063.0 L1128.7,1066.4 L1130.7,1069.8 L1132.7,1073.1 L1134.7,1076.4 L1136.7,1079.6 L1138.7,1082.7 L1140.7,1085.8 L1142.7,1088.8 L1144.7,1091.7 L1146.7,1094.5 L1148.7,1097.3 L1150.7,1100.0 L1152.7,1102.5 L1154.7,1105.0 L1156.7,1107.4 L1158.7,1109.7 L1160.7,1112.0 L1162.7,1114.1 L1164.7,1116.1 L1166.7,1118.1 L1168.7,1119.9 L1170.7,1121.7 L1172.7,1123.4 L1174.7,1125.0 L1176.7,1126.5 L1178.7,1127.9 L1180.7,1129.3 L1182.7,1130.5 L1184.7,1131.7 L1186.7,1132.9 L1188.7,1133.9 L1190.7,1134.9 L1192.7,1135.8 L1194.7,1136.7 L1196.7,1137.5 L1198.7,1138.2 L1200.7,1138.9 L1202.7,1139.6 L1204.7,1140.2 L1206.7,1140.7 L1208.7,1141.2 L1210.7,1141.7 L1212.7,1142.1 L1214.7,1142.5 L1216.7,1142.9 L1218.7,1143.2 L1220.7,1143.5 L1222.7,1143.8 L1224.7,1144.0 L1226.7,1144.2 L1228.7,1144.4 L1230.7,1144.6 L1232.7,1144.8 L1234.7,1144.9 L1236.7,1145.0 L1238.7,1145.1 L1240.7,1145.2 L1242.7,1145.3 L1244.7,1145.4 L1246.7,1145.4 L1248.7,1145.5 L1250.7,1145.5 L1252.7,1145.5 L1254.7,1145.6 L1256.7,1145.6 L1258.7,1145.6 L1260.7,1145.6 L1262.7,1145.6 L1264.7,1145.6 L1266.7,1145.6 L1268.7,1145.6 L1270.7,1145.5 L1272.7,1145.5 L1274.7,1145.5 L1276.7,1145.5 L1278.7,1145.4 L1280.7,1145.4 L1282.7,1145.4 L1284.7,1145.4 L1286.7,1145.3 L1288.7,1145.3 L1290.7,1145.2 L1292.7,1145.2 L1294.7,1145.2 L1296.7,1145.1 L1298.7,1145.1 L1300.7,1145.0 L1302.7,1145.0 L1304.7,1144.9 L1306.7,1144.9 L1308.7,1144.8 L1310.7,1144.8 L1312.7,1144.8 L1314.7,1144.7 L1316.7,1144.7 L1318.7,1144.6 L1320.7,1144.6 L1322.7,1144.5 L1324.7,1144.5 L1326.7,1144.4 L1328.7,1144.4 L1330.7,1144.3 L1332.7,1144.3 L1334.7,1144.2 L1336.7,1144.2 L1338.7,1144.1 L1340.7,1144.1 L1342.7,1144.0 L1344.7,1144.0 L1346.7,1143.9 L1348.7,1143.9 L1350.7,1143.8 L1352.7,1143.8 L1354.7,1143.7 L1356.7,1143.7 L1358.7,1143.6 L1360.7,1143.6 L1362.7,1143.5 L1364.7,1143.5 L1366.7,1143.4 L1368.7,1143.4 L1370.7,1143.3 L1372.7,1143.3 L1374.7,1143.2 L1376.7,1143.2 L1378.7,1143.1 L1380.7,1143.1 L1382.7,1143.0 L1384.7,1143.0 L1386.7,1142.9 L1388.7,1142.9 L1390.7,1142.8 L1392.7,1142.8 L1394.7,1142.8 L1396.7,1142.7 L1398.7,1142.7 L1400.7,1142.6 L1402.7,1142.6 L1404.7,1142.5 L1406.7,1142.5 L1408.7,1142.5 L1410.7,1142.4 L1412.7,1142.4 L1414.7,1142.3 L1416.7,1142.3 L1418.7,1142.3 L1420.7,1142.2 L1422.7,1142.2 L1424.7,1142.1 L1426.7,1142.1 L1428.7,1142.1 L1430.7,1142.0 L1432.7,1142.0 L1434.7,1141.9 L1436.7,1141.9 L1438.7,1141.9 L1440.7,1141.8 L1442.7,1141.8 L1444.7,1141.8 L1446.7,1141.7 L1448.7,1141.7 L1450.7,1141.7 L1452.7,1141.6 L1454.7,1141.6 L1456.7,1141.5 L1458.7,1141.5 L1460.7,1141.5 L1462.7,1141.4 L1464.7,1141.4 L1466.7,1141.4 L1468.7,1141.3 L1470.7,1141.3 L1472.7,1141.3 L1474.7,1141.2 L1476.7,1141.2 L1478.7,1141.2 L1480.7,1141.1 L1482.7,1141.1 L1484.7,1141.1 L1486.7,1141.0 L1488.7,1141.0 L1490.7,1141.0 L1492.7,1140.9 L1494.7,1140.9 L1496.7,1140.9 L1498.7,1140.8 L1500.7,1140.8 L1502.7,1140.8 L1504.7,1140.7 L1506.7,1140.7 L1508.7,1140.7 L1510.7,1140.6 L1512.7,1140.6 L1514.7,1140.6 L1516.7,1140.5 L1518.7,1140.5 L1520.7,1140.5 L1522.7,1140.4 L1524.7,1140.4 L1526.7,1140.4 L1528.7,1140.3 L1530.7,1140.3 L1532.7,1140.3 L1534.7,1140.3 L1536.7,1140.2 L1538.7,1140.2 L1540.7,1140.2 L1542.7,1140.1 L1544.7,1140.1 L1546.7,1140.1 L1548.7,1140.1 L1550.7,1140.0 L1552.7,1140.0 L1554.7,1140.0 L1556.7,1139.9 L1558.7,1139.9 L1560.7,1139.9 L1562.7,1139.9 L1564.7,1139.8 L1566.7,1139.8 L1568.7,1139.8 L1570.7,1139.8 L1572.7,1139.8 L1574.7,1139.7 L1576.7,1139.7 L1578.7,1139.7 L1580.7,1139.7 L1582.7,1139.6 L1584.7,1139.6 L1586.7,1139.6 L1588.7,1139.6 L1590.7,1139.6 L1592.7,1139.5 L1594.7,1139.5 L1596.7,1139.5 L1598.7,1139.5 L1600.7,1139.5 L1602.7,1139.5 L1604.7,1139.4 L1606.7,1139.4 L1608.7,1139.4 L1610.7,1139.4 L1612.7,1139.4 L1614.7,1139.4 L1616.7,1139.3 L1618.7,1139.3 L1620.7,1139.3 L1622.7,1139.3 L1624.7,1139.3 L1626.7,1139.3 L1628.7,1139.3 L1630.7,1139.3 L1632.7,1139.2 L1634.7,1139.2 L1636.7,1139.2 L1638.7,1139.2 L1640.7,1139.2 L1642.7,1139.2 L1644.7,1139.2 L1646.7,1139.2 L1648.7,1139.2 L1650.7,1139.2 L1652.7,1139.2 L1654.7,1139.1 L1656.7,1139.1 L1658.7,1139.1 L1660.7,1139.1 L1662.7,1139.1 L1664.7,1139.1 L1666.7,1139.1 L1668.7,1139.1 L1670.7,1139.1 L1672.7,1139.1 L1674.7,1139.1 L1676.7,1139.1 L1678.7,1139.1 L1680.7,1139.1 L1682.7,1139.1 L1684.7,1139.0 L1686.7,1139.0 L1688.7,1139.0 L1690.7,1139.0 L1692.7,1139.0 L1694.7,1139.0 L1696.7,1139.0 L1698.7,1139.0 L1700.7,1139.0 L1702.7,1139.0 L1704.7,1139.0 L1706.7,1139.0 L1708.7,1139.0 L1710.7,1139.0 L1712.7,1139.0 L1714.7,1139.0 L1716.7,1139.0 L1718.7,1139.0 L1720.7,1139.0 L1722.7,1139.0 L1724.7,1139.0 L1726.7,1139.0 L1728.7,1139.0 L1730.7,1139.0 L1732.7,1139.0 L1734.7,1139.0 L1736.7,1139.0 L1738.7,1139.0 L1740.7,1138.9 L1742.7,1138.9 L1744.7,1138.9 L1746.7,1138.9 L1748.7,1138.9 L1750.7,1138.9 L1752.7,1138.9 L1754.7,1138.9 L1756.7,1138.9 L1758.7,1138.9 L1760.7,1138.9 L1762.7,1138.9 L1764.7,1138.9 L1766.7,1138.9 L1768.7,1138.9 L1770.7,1138.9 L1772.7,1138.9 L1774.7,1138.9 L1776.7,1138.9 L1778.7,1138.9 L1780.7,1138.9 L1782.7,1138.9 L1784.7,1138.9 L1786.7,1138.9 L1788.7,1138.9 L1790.7,1138.9 L1792.7,1138.9 L1794.7,1138.9 L1796.7,1138.9 L1798.7,1138.9 L1800.7,1138.9 L1802.7,1138.9 L1804.7,1138.9 L1806.7,1138.9 L1808.7,1138.9 L1810.7,1138.9 L1812.7,1138.9 L1814.7,1138.9 L1816.7,1138.9 L1818.7,1138.9 L1820.7,1138.9 L1822.7,1138.9 L1824.7,1138.9 L1826.7,1138.9 L1828.7,1138.9 L1830.7,1138.9 L1832.7,1138.9 L1834.7,1138.9 L1836.7,1138.9 L1838.7,1138.9 L1840.7,1138.9 L1842.7,1138.9 L1844.7,1138.9 L1846.7,1138.9 L1848.7,1138.9 L1850.7,1138.9 L1852.7,1138.9 L1854.7,1138.9 L1856.7,1138.9 L1858.7,1138.9 L1860.7,1138.9 L1862.7,1138.9 L1864.7,1138.9 L1866.7,1138.9 L1868.7,1138.9 L1870.7,1138.8 L1872.7,1138.8 L1874.7,1138.8 L1876.7,1138.8 L1878.7,1138.8 L1880.7,1138.8 L1882.7,1138.8 L1884.7,1138.8 L1886.7,1138.8 L1888.7,1138.8 L1890.7,1138.8 L1892.7,1138.8 L1894.7,1138.8 L1896.7,1138.8 L1898.7,1138.8 L1900.7,1138.8 L1902.7,1138.8 L1904.7,1138.8 L1906.7,1138.8 L1908.7,1138.8 L1910.7,1138.8 L1912.7,1138.8 L1914.7,1138.8 L1916.7,1138.8 L1918.7,1138.8 L1920.7,1138.8 L1922.7,1138.8 L1924.7,1138.8 L1926.7,1138.8 L1928.7,1138.8 L1930.7,1138.8 L1932.7,1138.8 L1934.7,1138.8 L1936.7,1138.8 L1938.7,1138.8 L1940.7,1138.8 L1942.7,1138.8 L1944.7,1138.8 L1946.7,1138.8 L1948.7,1138.8 L1950.7,1138.8 L1952.7,1138.8 L1954.7,1138.8 L1956.7,1138.8 L1958.7,1138.8 L1960.7,1138.8 L1962.7,1138.8 L1964.7,1138.8 L1966.7,1138.8 L1968.7,1138.8 L1970.7,1138.8 L1972.7,1138.8 L1974.7,1138.8 L1976.7,1138.8 L1978.7,1138.8 L1980.7,1138.8 L1982.7,1138.8 L1984.7,1138.8 L1986.7,1138.8 L1988.7,1138.8 L1990.7,1138.8 L1992.7,1138.8 L1994.7,1138.8 L1996.7,1138.8 L1998.7,1138.8 L2000.7,1138.8"/>
<path d="M462.6,1213.9 L464.6,1213.9 L466.6,1213.9 L468.6,1213.9 L470.6,1213.9 L472.6,1213.8 L474.6,1213.8 L476.6,1213.8 L478.6,1213.8 L480.6,1213.8 L482.6,1213.8 L484.6,1213.8 L486.6,1213.8 L488.6,1213.8 L490.6,1213.8 L492.6,1213.8 L494.6,1213.8 L496.6,1213.8 L498.6,1213.8 L500.6,1213.8 L502.6,1213.8 L504.6,1213.8 L506.6,1213.8 L508.6,1213.8 L510.6,1213.8 L512.6,1213.8 L514.6,1213.8 L516.6,1213.8 L518.6,1213.8 L520.6,1213.8 L522.6,1213.8 L524.6,1213.8 L526.6,1213.8 L528.6,1213.8 L530.6,1213.8 L532.6,1213.7 L534.6,1213.7 L536.6,1213.7 L538.6,1213.7 L540.6,1213.7 L542.6,1213.7 L544.6,1213.7 L546.6,1213.7 L548.6,1213.7 L550.6,1213.7 L552.6,1213.7 L554.6,1213.7 L556.6,1213.7 L558.6,1213.7 L560.6,1213.7 L562.6,1213.7 L564.6,1213.7 L566.6,1213.7 L568.6,1213.7 L570.6,1213.7 L572.6,1213.7 L574.6,1213.7 L576.6,1213.7 L578.6,1213.7 L580.6,1213.6 L582.6,1213.6 L584.6,1213.6 L586.6,1213.6 L588.6,1213.6 L590.6,1213.6 L592.6,1213.6 L594.6,1213.6 L596.6,1213.6 L598.6,1213.6 L600.6,1213.6 L602.6,1213.6 L604.6,1213.6 L606.6,1213.6 L608.6,1213.6 L610.6,1213.6 L612.6,1213.6 L614.6,1213.6 L616.6,1213.6 L618.6,1213.6 L620.6,1213.5 L622.6,1213.5 L624.6,1213.5 L626.6,1213.5 L628.6,1213.5 L630.6,1213.5 L632.6,1213.5 L634.6,1213.5 L636.6,1213.5 L638.6,1213.5 L640.6,1213.5 L642.6,1213.5 L644.6,1213.5 L646.6,1213.5 L648.6,1213.5 L650.6,1213.5 L652.6,1213.4 L654.6,1213.4 L656.6,1213.4 L658.6,1213.4 L660.6,1213.4 L662.6,1213.4 L664.6,1213.4 L666.6,1213.4 L668.6,1213.4 L670.6,1213.4 L672.6,1213.4 L674.6,1213.4 L676.6,1213.4 L678.6,1213.4 L680.6,1213.3 L682.6,1213.3 L684.6,1213.3 L686.6,1213.3 L688.6,1213.3 L690.6,1213.3 L692.6,1213.3 L694.6,1213.3 L696.6,1213.3 L698.6,1213.3 L700.6,1213.3 L702.6,1213.2 L704.6,1213.2 L706.6,1213.2 L708.6,1213.2 L710.6,1213.2 L712.6,1213.2 L714.6,1213.2 L716.6,1213.2 L718.6,1213.2 L720.6,1213.2 L722.6,1213.1 L724.6,1213.1 L726.6,1213.1 L728.6,1213.1 L730.6,1213.1 L732.6,1213.1 L734.6,1213.1 L736.6,1213.1 L738.6,1213.1 L740.6,1213.0 L742.6,1213.0 L744.6,1213.0 L746.6,1213.0 L748.6,1213.0 L750.6,1213.0 L752.6,1213.0 L754.6,1213.0 L756.6,1212.9 L758.6,1212.9 L760.6,1212.9 L762.6,1212.9 L764.6,1212.9 L766.6,1212.9 L768.6,1212.9 L770.6,1212.8 L772.6,1212.8 L774.6,1212.8 L776.6,1212.8 L778.6,1212.8 L780.6,1212.8 L782.6,1212.7 L784.6,1212.7 L786.6,1212.7 L788.6,1212.7 L790.6,1212.7 L792.6,1212.7 L794.6,1212.6 L796.6,1212.6 L798.6,1212.6 L800.6,1212.6 L802.6,1212.5 L804.6,1212.5 L806.6,1212.5 L808.6,1212.5 L810.6,1212.4 L812.6,1212.4 L814.6,1212.4 L816.6,1212.4 L818.6,1212.3 L820.6,1212.3 L822.6,1212.3 L824.6,1212.2 L826.6,1212.2 L828.6,1212.2 L830.6,1212.1 L832.6,1212.1 L834.6,1212.0 L836.6,1212.0 L838.6,1211.9 L840.6,1211.9 L842.6,1211.8 L844.6,1211.8 L846.6,1211.7 L848.6,1211.6 L850.6,1211.5 L852.6,1211.5 L854.6,1211.4 L856.6,1211.3 L858.6,1211.2 L860.6,1211.1 L862.6,1211.0 L864.6,1210.8 L866.6,1210.7 L868.6,1210.6 L870.6,1210.4 L872.6,1210.3 L874.6,1210.1 L876.6,1209.9 L878.6,1209.7 L880.6,1209.5 L882.6,1209.3 L884.6,1209.1 L886.6,1208.8 L888.6,1208.6 L890.6,1208.3 L892.6,1208.0 L894.6,1207.7 L896.6,1207.4 L898.6,1207.1 L900.6,1206.7 L902.6,1206.3 L904.6,1205.9 L906.6,1205.5 L908.6,1205.1 L910.6,1204.6 L912.6,1204.2 L914.6,1203.7 L916.6,1203.2 L918.6,1202.6 L920.6,1202.1 L922.6,1201.5 L924.6,1200.9 L926.6,1200.3 L928.6,1199.7 L930.6,1199.0 L932.6,1198.3 L934.6,1197.6 L936.6,1196.9 L938.6,1196.2 L940.6,1195.4 L942.6,1194.7 L944.6,1193.9 L946.6,1193.1 L948.6,1192.3 L950.6,1191.5 L952.6,1190.7 L954.6,1189.8 L956.6,1189.0 L958.6,1188.1 L960.6,1187.2 L962.6,1186.3 L964.6,1185.4 L966.6,1184.5 L968.6,1183.6 L970.6,1182.7 L972.6,1181.8 L974.6,1180.9 L976.6,1180.0 L978.6,1179.1 L980.6,1178.1 L982.6,1177.2 L984.6,1176.3 L986.6,1175.3 L988.6,1174.4 L990.6,1173.5 L992.6,1172.5 L994.6,1171.6 L996.6,1170.6 L998.6,1169.7 L1000.6,1168.7 L1002.6,1167.7 L1004.6,1166.8 L1006.6,1165.8 L1008.6,1164.8 L1010.6,1163.8 L1012.6,1162.8 L1014.6,1161.8 L1016.6,1160.8 L1018.6,1159.7 L1020.6,1158.7 L1022.6,1157.6 L1024.7,1156.6 L1026.7,1155.5 L1028.7,1154.4 L1030.7,1153.3 L1032.7,1152.1 L1034.7,1151.0 L1036.7,1149.8 L1038.7,1148.6 L1040.7,1147.4 L1042.7,1146.1 L1044.7,1144.8 L1046.7,1143.6 L1048.7,1142.2 L1050.7,1140.9 L1052.7,1139.5 L1054.7,1138.1 L1056.7,1136.7 L1058.7,1135.3 L1060.7,1133.8 L1062.7,1132.3 L1064.7,1130.8 L1066.7,1129.3 L1068.7,1127.7 L1070.7,1126.1 L1072.7,1124.5 L1074.7,1122.8 L1076.7,1121.1 L1078.7,1119.4 L1080.7,1117.7 L1082.7,1116.0 L1084.7,1114.2 L1086.7,1112.5 L1088.7,1110.7 L1090.7,1108.9 L1092.7,1107.1 L1094.7,1105.2 L1096.7,1103.4 L1098.7,1101.6 L1100.7,1099.7 L1102.7,1097.9 L1104.7,1096.0 L1106.7,1094.2 L1108.7,1092.4 L1110.7,1090.6 L1112.7,1088.7 L1114.7,1087.0 L1116.7,1085.2 L1118.7,1083.4 L1120.7,1081.7 L1122.7,1080.0 L1124.7,1078.4 L1126.7,1076.7 L1128.7,1075.1 L1130.7,1073.6 L1132.7,1072.1 L1134.7,1070.7 L1136.7,1069.3 L1138.7,1067.9 L1140.7,1066.7 L1142.7,1065.5 L1144.7,1064.3 L1146.7,1063.3 L1148.7,1062.3 L1150.7,1061.4 L1152.7,1060.5 L1154.7,1059.8 L1156.7,1059.1 L1158.7,1058.5 L1160.7,1058.0 L1162.7,1057.6 L1164.7,1057.3 L1166.7,1057.1 L1168.7,1057.0 L1170.7,1056.9 L1172.7,1057.0 L1174.7,1057.1 L1176.7,1057.4 L1178.7,1057.7 L1180.7,1058.1 L1182.7,1058.6 L1184.7,1059.2 L1186.7,1059.9 L1188.7,1060.6 L1190.7,1061.4 L1192.7,1062.3 L1194.7,1063.2 L1196.7,1064.3 L1198.7,1065.3 L1200.7,1066.5 L1202.7,1067.7 L1204.7,1068.9 L1206.7,1070.2 L1208.7,1071.5 L1210.7,1072.9 L1212.7,1074.3 L1214.7,1075.7 L1216.7,1077.2 L1218.7,1078.7 L1220.7,1080.2 L1222.7,1081.7 L1224.7,1083.2 L1226.7,1084.8 L1228.7,1086.4 L1230.7,1087.9 L1232.7,1089.5 L1234.7,1091.1 L1236.7,1092.6 L1238.7,1094.2 L1240.7,1095.7 L1242.7,1097.3 L1244.7,1098.8 L1246.7,1100.3 L1248.7,1101.8 L1250.7,1103.3 L1252.7,1104.7 L1254.7,1106.1 L1256.7,1107.5 L1258.7,1108.9 L1260.7,1110.3 L1262.7,1111.6 L1264.7,1112.9 L1266.7,1114.1 L1268.7,1115.3 L1270.7,1116.5 L1272.7,1117.7 L1274.7,1118.8 L1276.7,1119.9 L1278.7,1121.0 L1280.7,1122.0 L1282.7,1123.0 L1284.7,1124.0 L1286.7,1124.9 L1288.7,1125.8 L1290.7,1126.7 L1292.7,1127.5 L1294.7,1128.3 L1296.7,1129.1 L1298.7,1129.8 L1300.7,1130.5 L1302.7,1131.2 L1304.7,1131.8 L1306.7,1132.4 L1308.7,1133.0 L1310.7,1133.5 L1312.7,1134.0 L1314.7,1134.5 L1316.7,1135.0 L1318.7,1135.5 L1320.7,1135.9 L1322.7,1136.3 L1324.7,1136.6 L1326.7,1137.0 L1328.7,1137.3 L1330.7,1137.6 L1332.7,1137.9 L1334.7,1138.2 L1336.7,1138.5 L1338.7,1138.7 L1340.7,1138.9 L1342.7,1139.1 L1344.7,1139.3 L1346.7,1139.5 L1348.7,1139.7 L1350.7,1139.8 L1352.7,1140.0 L1354.7,1140.1 L1356.7,1140.2 L1358.7,1140.3 L1360.7,1140.4 L1362.7,1140.5 L1364.7,1140.6 L1366.7,1140.7 L1368.7,1140.7 L1370.7,1140.8 L1372.7,1140.9 L1374.7,1140.9 L1376.7,1140.9 L1378.7,1141.0 L1380.7,1141.0 L1382.7,1141.0 L1384.7,1141.1 L1386.7,1141.1 L1388.7,1141.1 L1390.7,1141.1 L1392.7,1141.1 L1394.7,1141.1 L1396.7,1141.1 L1398.7,1141.1 L1400.7,1141.1 L1402.7,1141.1 L1404.7,1141.1 L1406.7,1141.1 L1408.7,1141.1 L1410.7,1141.1 L1412.7,1141.1 L1414.7,1141.1 L1416.7,1141.1 L1418.7,1141.1 L1420.7,1141.1 L1422.7,1141.0 L1424.7,1141.0 L1426.7,1141.0 L1428.7,1141.0 L1430.7,1141.0 L1432.7,1141.0 L1434.7,1140.9 L1436.7,1140.9 L1438.7,1140.9 L1440.7,1140.9 L1442.7,1140.9 L1444.7,1140.8 L1446.7,1140.8 L1448.7,1140.8 L1450.7,1140.8 L1452.7,1140.8 L1454.7,1140.7 L1456.7,1140.7 L1458.7,1140.7 L1460.7,1140.7 L1462.7,1140.6 L1464.7,1140.6 L1466.7,1140.6 L1468.7,1140.6 L1470.7,1140.5 L1472.7,1140.5 L1474.7,1140.5 L1476.7,1140.5 L1478.7,1140.4 L1480.7,1140.4 L1482.7,1140.4 L1484.7,1140.4 L1486.7,1140.3 L1488.7,1140.3 L1490.7,1140.3 L1492.7,1140.3 L1494.7,1140.2 L1496.7,1140.2 L1498.7,1140.2 L1500.7,1140.2 L1502.7,1140.1 L1504.7,1140.1 L1506.7,1140.1 L1508.7,1140.1 L1510.7,1140.0 L1512.7,1140.0 L1514.7,1140.0 L1516.7,1140.0 L1518.7,1139.9 L1520.7,1139.9 L1522.7,1139.9 L1524.7,1139.9 L1526.7,1139.8 L1528.7,1139.8 L1530.7,1139.8 L1532.7,1139.8 L1534.7,1139.8 L1536.7,1139.7 L1538.7,1139.7 L1540.7,1139.7 L1542.7,1139.7 L1544.7,1139.6 L1546.7,1139.6 L1548.7,1139.6 L1550.7,1139.6 L1552.7,1139.5 L1554.7,1139.5 L1556.7,1139.5 L1558.7,1139.5 L1560.7,1139.5 L1562.7,1139.4 L1564.7,1139.4 L1566.7,1139.4 L1568.7,1139.4 L1570.7,1139.4 L1572.7,1139.3 L1574.7,1139.3 L1576.7,1139.3 L1578.7,1139.3 L1580.7,1139.3 L1582.7,1139.3 L1584.7,1139.2 L1586.7,1139.2 L1588.7,1139.2 L1590.7,1139.2 L1592.7,1139.2 L1594.7,1139.2 L1596.7,1139.1 L1598.7,1139.1 L1600.7,1139.1 L1602.7,1139.1 L1604.7,1139.1 L1606.7,1139.1 L1608.7,1139.1 L1610.7,1139.1 L1612.7,1139.0 L1614.7,1139.0 L1616.7,1139.0 L1618.7,1139.0 L1620.7,1139.0 L1622.7,1139.0 L1624.7,1139.0 L1626.7,1139.0 L1628.7,1139.0 L1630.7,1139.0 L1632.7,1138.9 L1634.7,1138.9 L1636.7,1138.9 L1638.7,1138.9 L1640.7,1138.9 L1642.7,1138.9 L1644.7,1138.9 L1646.7,1138.9 L1648.7,1138.9 L1650.7,1138.9 L1652.7,1138.9 L1654.7,1138.9 L1656.7,1138.9 L1658.7,1138.9 L1660.7,1138.9 L1662.7,1138.8 L1664.7,1138.8 L1666.7,1138.8 L1668.7,1138.8 L1670.7,1138.8 L1672.7,1138.8 L1674.7,1138.8 L1676.7,1138.8 L1678.7,1138.8 L1680.7,1138.8 L1682.7,1138.8 L1684.7,1138.8 L1686.7,1138.8 L1688.7,1138.8 L1690.7,1138.8 L1692.7,1138.8 L1694.7,1138.8 L1696.7,1138.8 L1698.7,1138.8 L1700.7,1138.8 L1702.7,1138.8 L1704.7,1138.8 L1706.7,1138.8 L1708.7,1138.8 L1710.7,1138.8 L1712.7,1138.8 L1714.7,1138.8 L1716.7,1138.8 L1718.7,1138.8 L1720.7,1138.8 L1722.7,1138.8 L1724.7,1138.8 L1726.7,1138.8 L1728.7,1138.8 L1730.7,1138.8 L1732.7,1138.8 L1734.7,1138.8 L1736.7,1138.8 L1738.7,1138.8 L1740.7,1138.8 L1742.7,1138.8 L1744.7,1138.8 L1746.7,1138.8 L1748.7,1138.8 L1750.7,1138.8 L1752.7,1138.8 L1754.7,1138.8 L1756.7,1138.7 L1758.7,1138.7 L1760.7,1138.7 L1762.7,1138.7 L1764.7,1138.7 L1766.7,1138.7 L1768.7,1138.7 L1770.7,1138.7 L1772.7,1138.7 L1774.7,1138.7 L1776.7,1138.7 L1778.7,1138.7 L1780.7,1138.7 L1782.7,1138.7 L1784.7,1138.7 L1786.7,1138.7 L1788.7,1138.7 L1790.7,1138.7 L1792.7,1138.7 L1794.7,1138.7 L1796.7,1138.7 L1798.7,1138.7 L1800.7,1138.7 L1802.7,1138.7 L1804.7,1138.7 L1806.7,1138.7 L1808.7,1138.7 L1810.7,1138.7 L1812.7,1138.7 L1814.7,1138.7 L1816.7,1138.7 L1818.7,1138.7 L1820.7,1138.7 L1822.7,1138.7 L1824.7,1138.7 L1826.7,1138.7 L1828.7,1138.7 L1830.7,1138.7 L1832.7,1138.7 L1834.7,1138.7 L1836.7,1138.7 L1838.7,1138.7 L1840.7,1138.7 L1842.7,1138.7 L1844.7,1138.7 L1846.7,1138.7 L1848.7,1138.7 L1850.7,1138.7 L1852.7,1138.7 L1854.7,1138.7 L1856.7,1138.7 L1858.7,1138.7 L1860.7,1138.7 L1862.7,1138.7 L1864.7,1138.7 L1866.7,1138.7 L1868.7,1138.7 L1870.7,1138.7 L1872.7,1138.7 L1874.7,1138.7 L1876.7,1138.7 L1878.7,1138.7 L1880.7,1138.7 L1882.7,1138.7 L1884.7,1138.7 L1886.7,1138.7 L1888.7,1138.7 L1890.7,1138.7 L1892.7,1138.7 L1894.7,1138.7 L1896.7,1138.7 L1898.7,1138.7 L1900.7,1138.7 L1902.7,1138.7 L1904.7,1138.7 L1906.7,1138.7 L1908.7,1138.7 L1910.7,1138.7 L1912.7,1138.7 L1914.7,1138.7 L1916.7,1138.7 L1918.7,1138.7 L1920.7,1138.7 L1922.7,1138.7 L1924.7,1138.7 L1926.7,1138.7 L1928.7,1138.7 L1930.7,1138.7 L1932.7,1138.7 L1934.7,1138.7 L1936.7,1138.7 L1938.7,1138.7 L1940.7,1138.7 L1942.7,1138.7 L1944.7,1138.7 L1946.7,1138.7 L1948.7,1138.7 L1950.7,1138.7 L1952.7,1138.7 L1954.7,1138.7 L1956.7,1138.7 L1958.7,1138.7 L1960.7,1138.7 L1962.7,1138.7 L1964.7,1138.7 L1966.7,1138.7 L1968.7,1138.7 L1970.7,1138.7 L1972.7,1138.7 L1974.7,1138.7 L1976.7,1138.7 L1978.7,1138.7 L1980.7,1138.7 L1982.7,1138.7 L1984.7,1138.7 L1986.7,1138.7 L1988.7,1138.7 L1990.7,1138.7 L1992.7,1138.7 L1994.7,1138.7 L1996.7,1138.7 L1998.7,1138.7 L2000.7,1138.7"/>
<path d="M462.6,1214.1 L464.6,1214.1 L466.6,1214.1 L468.6,1214.1 L470.6,1214.1 L472.6,1214.1 L474.6,1214.1 L476.6,1214.1 L478.6,1214.1 L480.6,1214.1 L482.6,1214.1 L484.6,1214.1 L486.6,1214.1 L488.6,1214.1 L490.6,1214.1 L492.6,1214.1 L494.6,1214.1 L496.6,1214.1 L498.6,1214.1 L500.6,1214.0 L502.6,1214.0 L504.6,1214.0 L506.6,1214.0 L508.6,1214.0 L510.6,1214.0 L512.6,1214.0 L514.6,1214.0 L516.6,1214.0 L518.6,1214.0 L520.6,1214.0 L522.6,1214.0 L524.6,1214.0 L526.6,1214.0 L528.6,1214.0 L530.6,1214.0 L532.6,1214.0 L534.6,1214.0 L536.6,1214.0 L538.6,1214.0 L540.6,1214.0 L542.6,1214.0 L544.6,1214.0 L546.6,1214.0 L548.6,1214.0 L550.6,1214.0 L552.6,1214.0 L554.6,1214.0 L556.6,1214.0 L558.6,1214.0 L560.6,1214.0 L562.6,1214.0 L564.6,1214.0 L566.6,1214.0 L568.6,1214.0 L570.6,1214.0 L572.6,1214.0 L574.6,1214.0 L576.6,1214.0 L578.6,1214.0 L580.6,1214.0 L582.6,1214.0 L584.6,1214.0 L586.6,1214.0 L588.6,1214.0 L590.6,1214.0 L592.6,1213.9 L594.6,1213.9 L596.6,1213.9 L598.6,1213.9 L600.6,1213.9 L602.6,1213.9 L604.6,1213.9 L606.6,1213.9 L608.6,1213.9 L610.6,1213.9 L612.6,1213.9 L614.6,1213.9 L616.6,1213.9 L618.6,1213.9 L620.6,1213.9 L622.6,1213.9 L624.6,1213.9 L626.6,1213.9 L628.6,1213.9 L630.6,1213.9 L632.6,1213.9 L634.6,1213.9 L636.6,1213.9 L638.6,1213.9 L640.6,1213.9 L642.6,1213.9 L644.6,1213.9 L646.6,1213.9 L648.6,1213.9 L650.6,1213.9 L652.6,1213.9 L654.6,1213.9 L656.6,1213.8 L658.6,1213.8 L660.6,1213.8 L662.6,1213.8 L664.6,1213.8 L666.6,1213.8 L668.6,1213.8 L670.6,1213.8 L672.6,1213.8 L674.6,1213.8 L676.6,1213.8 L678.6,1213.8 L680.6,1213.8 L682.6,1213.8 L684.6,1213.8 L686.6,1213.8 L688.6,1213.8 L690.6,1213.8 L692.6,1213.8 L694.6,1213.8 L696.6,1213.8 L698.6,1213.8 L700.6,1213.8 L702.6,1213.7 L704.6,1213.7 L706.6,1213.7 L708.6,1213.7 L710.6,1213.7 L712.6,1213.7 L714.6,1213.7 L716.6,1213.7 L718.6,1213.7 L720.6,1213.7 L722.6,1213.7 L724.6,1213.7 L726.6,1213.7 L728.6,1213.7 L730.6,1213.7 L732.6,1213.7 L734.6,1213.7 L736.6,1213.6 L738.6,1213.6 L740.6,1213.6 L742.6,1213.6 L744.6,1213.6 L746.6,1213.6 L748.6,1213.6 L750.6,1213.6 L752.6,1213.6 L754.6,1213.6 L756.6,1213.6 L758.6,1213.6 L760.6,1213.6 L762.6,1213.6 L764.6,1213.5 L766.6,1213.5 L768.6,1213.5 L770.6,1213.5 L772.6,1213.5 L774.6,1213.5 L776.6,1213.5 L778.6,1213.5 L780.6,1213.5 L782.6,1213.5 L784.6,1213.5 L786.6,1213.4 L788.6,1213.4 L790.6,1213.4 L792.6,1213.4 L794.6,1213.4 L796.6,1213.4 L798.6,1213.4 L800.6,1213.4 L802.6,1213.3 L804.6,1213.3 L806.6,1213.3 L808.6,1213.3 L810.6,1213.3 L812.6,1213.3 L814.6,1213.2 L816.6,1213.2 L818.6,1213.2 L820.6,1213.2 L822.6,1213.2 L824.6,1213.1 L826.6,1213.1 L828.6,1213.1 L830.6,1213.0 L832.6,1213.0 L834.6,1213.0 L836.6,1212.9 L838.6,1212.9 L840.6,1212.9 L842.6,1212.8 L844.6,1212.8 L846.6,1212.7 L848.6,1212.6 L850.6,1212.6 L852.6,1212.5 L854.6,1212.4 L856.6,1212.4 L858.6,1212.3 L860.6,1212.2 L862.6,1212.1 L864.6,1212.0 L866.6,1211.9 L868.6,1211.7 L870.6,1211.6 L872.6,1211.5 L874.6,1211.3 L876.6,1211.1 L878.6,1211.0 L880.6,1210.8 L882.6,1210.6 L884.6,1210.4 L886.6,1210.1 L888.6,1209.9 L890.6,1209.7 L892.6,1209.4 L894.6,1209.1 L896.6,1208.8 L898.6,1208.5 L900.6,1208.2 L902.6,1207.8 L904.6,1207.4 L906.6,1207.0 L908.6,1206.6 L910.6,1206.2 L912.6,1205.8 L914.6,1205.3 L916.6,1204.8 L918.6,1204.3 L920.6,1203.8 L922.6,1203.3 L924.6,1202.7 L926.6,1202.1 L928.6,1201.5 L930.6,1200.9 L932.6,1200.3 L934.6,1199.7 L936.6,1199.0 L938.6,1198.3 L940.6,1197.6 L942.6,1196.9 L944.6,1196.2 L946.6,1195.5 L948.6,1194.7 L950.6,1194.0 L952.6,1193.2 L954.6,1192.5 L956.6,1191.7 L958.6,1190.9 L960.6,1190.1 L962.6,1189.4 L964.6,1188.6 L966.6,1187.8 L968.6,1187.0 L970.6,1186.3 L972.6,1185.5 L974.6,1184.7 L976.6,1183.9 L978.6,1183.2 L980.6,1182.4 L982.6,1181.7 L984.6,1181.0 L986.6,1180.2 L988.6,1179.5 L990.6,1178.8 L992.6,1178.1 L994.6,1177.4 L996.6,1176.8 L998.6,1176.1 L1000.6,1175.5 L1002.6,1174.8 L1004.6,1174.2 L1006.6,1173.6 L1008.6,1173.0 L1010.6,1172.4 L1012.6,1171.9 L1014.6,1171.3 L1016.6,1170.8 L1018.6,1170.2 L1020.6,1169.7 L1022.6,1169.2 L1024.7,1168.7 L1026.7,1168.2 L1028.7,1167.8 L1030.7,1167.3 L1032.7,1166.9 L1034.7,1166.4 L1036.7,1166.0 L1038.7,1165.6 L1040.7,1165.2 L1042.7,1164.8 L1044.7,1164.4 L1046.7,1164.0 L1048.7,1163.7 L1050.7,1163.3 L1052.7,1162.9 L1054.7,1162.6 L1056.7,1162.3 L1058.7,1161.9 L1060.7,1161.6 L1062.7,1161.3 L1064.7,1161.0 L1066.7,1160.7 L1068.7,1160.4 L1070.7,1160.1 L1072.7,1159.8 L1074.7,1159.5 L1076.7,1159.3 L1078.7,1159.0 L1080.7,1158.7 L1082.7,1158.5 L1084.7,1158.2 L1086.7,1157.9 L1088.7,1157.7 L1090.7,1157.4 L1092.7,1157.2 L1094.7,1156.9 L1096.7,1156.7 L1098.7,1156.4 L1100.7,1156.2 L1102.7,1155.9 L1104.7,1155.7 L1106.7,1155.4 L1108.7,1155.2 L1110.7,1154.9 L1112.7,1154.7 L1114.7,1154.4 L1116.7,1154.2 L1118.7,1153.9 L1120.7,1153.7 L1122.7,1153.4 L1124.7,1153.1 L1126.7,1152.9 L1128.7,1152.6 L1130.7,1152.3 L1132.7,1152.0 L1134.7,1151.7 L1136.7,1151.4 L1138.7,1151.1 L1140.7,1150.8 L1142.7,1150.5 L1144.7,1150.2 L1146.7,1149.8 L1148.7,1149.5 L1150.7,1149.1 L1152.7,1148.8 L1154.7,1148.4 L1156.7,1148.0 L1158.7,1147.6 L1160.7,1147.2 L1162.7,1146.8 L1164.7,1146.4 L1166.7,1146.0 L1168.7,1145.5 L1170.7,1145.0 L1172.7,1144.6 L1174.7,1144.1 L1176.7,1143.6 L1178.7,1143.0 L1180.7,1142.5 L1182.7,1141.9 L1184.7,1141.4 L1186.7,1140.8 L1188.7,1140.2 L1190.7,1139.5 L1192.7,1138.9 L1194.7,1138.3 L1196.7,1137.6 L1198.7,1136.9 L1200.7,1136.2 L1202.7,1135.5 L1204.7,1134.7 L1206.7,1134.0 L1208.7,1133.2 L1210.7,1132.4 L1212.7,1131.6 L1214.7,1130.8 L1216.7,1129.9 L1218.7,1129.1 L1220.7,1128.2 L1222.7,1127.3 L1224.7,1126.4 L1226.7,1125.5 L1228.7,1124.5 L1230.7,1123.6 L1232.7,1122.6 L1234.7,1121.7 L1236.7,1120.7 L1238.7,1119.7 L1240.7,1118.7 L1242.7,1117.7 L1244.7,1116.7 L1246.7,1115.7 L1248.7,1114.6 L1250.7,1113.6 L1252.7,1112.6 L1254.7,1111.6 L1256.7,1110.5 L1258.7,1109.5 L1260.7,1108.5 L1262.7,1107.4 L1264.7,1106.4 L1266.7,1105.4 L1268.7,1104.4 L1270.7,1103.4 L1272.7,1102.4 L1274.7,1101.5 L1276.7,1100.5 L1278.7,1099.6 L1280.7,1098.6 L1282.7,1097.7 L1284.7,1096.9 L1286.7,1096.0 L1288.7,1095.2 L1290.7,1094.3 L1292.7,1093.5 L1294.7,1092.8 L1296.7,1092.1 L1298.7,1091.3 L1300.7,1090.7 L1302.7,1090.0 L1304.7,1089.4 L1306.7,1088.9 L1308.7,1088.3 L1310.7,1087.8 L1312.7,1087.4 L1314.7,1086.9 L1316.7,1086.5 L1318.7,1086.2 L1320.7,1085.9 L1322.7,1085.6 L1324.7,1085.4 L1326.7,1085.2 L1328.7,1085.1 L1330.7,1085.0 L1332.7,1084.9 L1334.7,1084.9 L1336.7,1084.9 L1338.7,1085.0 L1340.7,1085.1 L1342.7,1085.2 L1344.7,1085.4 L1346.7,1085.7 L1348.7,1085.9 L1350.7,1086.2 L1352.7,1086.6 L1354.7,1087.0 L1356.7,1087.4 L1358.7,1087.8 L1360.7,1088.3 L1362.7,1088.8 L1364.7,1089.4 L1366.7,1090.0 L1368.7,1090.6 L1370.7,1091.3 L1372.7,1091.9 L1374.7,1092.6 L1376.7,1093.3 L1378.7,1094.1 L1380.7,1094.9 L1382.7,1095.6 L1384.7,1096.5 L1386.7,1097.3 L1388.7,1098.1 L1390.7,1099.0 L1392.7,1099.8 L1394.7,1100.7 L1396.7,1101.6 L1398.7,1102.5 L1400.7,1103.4 L1402.7,1104.3 L1404.7,1105.2 L1406.7,1106.1 L1408.7,1107.0 L1410.7,1107.9 L1412.7,1108.9 L1414.7,1109.8 L1416.7,1110.7 L1418.7,1111.6 L1420.7,1112.5 L1422.7,1113.3 L1424.7,1114.2 L1426.7,1115.1 L1428.7,1115.9 L1430.7,1116.8 L1432.7,1117.6 L1434.7,1118.4 L1436.7,1119.2 L1438.7,1120.0 L1440.7,1120.8 L1442.7,1121.6 L1444.7,1122.3 L1446.7,1123.1 L1448.7,1123.8 L1450.7,1124.5 L1452.7,1125.1 L1454.7,1125.8 L1456.7,1126.4 L1458.7,1127.1 L1460.7,1127.7 L1462.7,1128.3 L1464.7,1128.8 L1466.7,1129.4 L1468.7,1129.9 L1470.7,1130.4 L1472.7,1130.9 L1474.7,1131.4 L1476.7,1131.8 L1478.7,1132.3 L1480.7,1132.7 L1482.7,1133.1 L1484.7,1133.5 L1486.7,1133.9 L1488.7,1134.2 L1490.7,1134.6 L1492.7,1134.9 L1494.7,1135.2 L1496.7,1135.5 L1498.7,1135.8 L1500.7,1136.1 L1502.7,1136.3 L1504.7,1136.6 L1506.7,1136.8 L1508.7,1137.0 L1510.7,1137.2 L1512.7,1137.4 L1514.7,1137.6 L1516.7,1137.7 L1518.7,1137.9 L1520.7,1138.0 L1522.7,1138.2 L1524.7,1138.3 L1526.7,1138.4 L1528.7,1138.6 L1530.7,1138.7 L1532.7,1138.8 L1534.7,1138.8 L1536.7,1138.9 L1538.7,1139.0 L1540.7,1139.1 L1542.7,1139.1 L1544.7,1139.2 L1546.7,1139.3 L1548.7,1139.3 L1550.7,1139.3 L1552.7,1139.4 L1554.7,1139.4 L1556.7,1139.5 L1558.7,1139.5 L1560.7,1139.5 L1562.7,1139.5 L1564.7,1139.6 L1566.7,1139.6 L1568.7,1139.6 L1570.7,1139.6 L1572.7,1139.6 L1574.7,1139.6 L1576.7,1139.6 L1578.7,1139.6 L1580.7,1139.6 L1582.7,1139.6 L1584.7,1139.6 L1586.7,1139.6 L1588.7,1139.6 L1590.7,1139.6 L1592.7,1139.6 L1594.7,1139.6 L1596.7,1139.6 L1598.7,1139.6 L1600.7,1139.6 L1602.7,1139.6 L1604.7,1139.6 L1606.7,1139.6 L1608.7,1139.5 L1610.7,1139.5 L1612.7,1139.5 L1614.7,1139.5 L1616.7,1139.5 L1618.7,1139.5 L1620.7,1139.5 L1622.7,1139.5 L1624.7,1139.5 L1626.7,1139.4 L1628.7,1139.4 L1630.7,1139.4 L1632.7,1139.4 L1634.7,1139.4 L1636.7,1139.4 L1638.7,1139.4 L1640.7,1139.4 L1642.7,1139.4 L1644.7,1139.4 L1646.7,1139.4 L1648.7,1139.3 L1650.7,1139.3 L1652.7,1139.3 L1654.7,1139.3 L1656.7,1139.3 L1658.7,1139.3 L1660.7,1139.3 L1662.7,1139.3 L1664.7,1139.3 L1666.7,1139.3 L1668.7,1139.3 L1670.7,1139.3 L1672.7,1139.2 L1674.7,1139.2 L1676.7,1139.2 L1678.7,1139.2 L1680.7,1139.2 L1682.7,1139.2 L1684.7,1139.2 L1686.7,1139.2 L1688.7,1139.2 L1690.7,1139.2 L1692.7,1139.2 L1694.7,1139.2 L1696.7,1139.2 L1698.7,1139.2 L1700.7,1139.2 L1702.7,1139.2 L1704.7,1139.2 L1706.7,1139.2 L1708.7,1139.1 L1710.7,1139.1 L1712.7,1139.1 L1714.7,1139.1 L1716.7,1139.1 L1718.7,1139.1 L1720.7,1139.1 L1722.7,1139.1 L1724.7,1139.1 L1726.7,1139.1 L1728.7,1139.1 L1730.7,1139.1 L1732.7,1139.1 L1734.7,1139.1 L1736.7,1139.1 L1738.7,1139.1 L1740.7,1139.1 L1742.7,1139.1 L1744.7,1139.1 L1746.7,1139.1 L1748.7,1139.1 L1750.7,1139.1 L1752.7,1139.1 L1754.7,1139.1 L1756.7,1139.1 L1758.7,1139.1 L1760.7,1139.1 L1762.7,1139.1 L1764.7,1139.1 L1766.7,1139.0 L1768.7,1139.0 L1770.7,1139.0 L1772.7,1139.0 L1774.7,1139.0 L1776.7,1139.0 L1778.7,1139.0 L1780.7,1139.0 L1782.7,1139.0 L1784.7,1139.0 L1786.7,1139.0 L1788.7,1139.0 L1790.7,1139.0 L1792.7,1139.0 L1794.7,1139.0 L1796.7,1139.0 L1798.7,1139.0 L1800.7,1139.0 L1802.7,1139.0 L1804.7,1139.0 L1806.7,1139.0 L1808.7,1139.0 L1810.7,1139.0 L1812.7,1139.0 L1814.7,1139.0 L1816.7,1139.0 L1818.7,1139.0 L1820.7,1139.0 L1822.7,1139.0 L1824.7,1139.0 L1826.7,1139.0 L1828.7,1139.0 L1830.7,1139.0 L1832.7,1139.0 L1834.7,1139.0 L1836.7,1139.0 L1838.7,1139.0 L1840.7,1139.0 L1842.7,1139.0 L1844.7,1139.0 L1846.7,1139.0 L1848.7,1139.0 L1850.7,1139.0 L1852.7,1139.0 L1854.7,1139.0 L1856.7,1139.0 L1858.7,1139.0 L1860.7,1139.0 L1862.7,1139.0 L1864.7,1139.0 L1866.7,1139.0 L1868.7,1138.9 L1870.7,1138.9 L1872.7,1138.9 L1874.7,1138.9 L1876.7,1138.9 L1878.7,1138.9 L1880.7,1138.9 L1882.7,1138.9 L1884.7,1138.9 L1886.7,1138.9 L1888.7,1138.9 L1890.7,1138.9 L1892.7,1138.9 L1894.7,1138.9 L1896.7,1138.9 L1898.7,1138.9 L1900.7,1138.9 L1902.7,1138.9 L1904.7,1138.9 L1906.7,1138.9 L1908.7,1138.9 L1910.7,1138.9 L1912.7,1138.9 L1914.7,1138.9 L1916.7,1138.9 L1918.7,1138.9 L1920.7,1138.9 L1922.7,1138.9 L1924.7,1138.9 L1926.7,1138.9 L1928.7,1138.9 L1930.7,1138.9 L1932.7,1138.9 L1934.7,1138.9 L1936.7,1138.9 L1938.7,1138.9 L1940.7,1138.9 L1942.7,1138.9 L1944.7,1138.9 L1946.7,1138.9 L1948.7,1138.9 L1950.7,1138.9 L1952.7,1138.9 L1954.7,1138.9 L1956.7,1138.9 L1958.7,1138.9 L1960.7,1138.9 L1962.7,1138.9 L1964.7,1138.9 L1966.7,1138.9 L1968.7,1138.9 L1970.7,1138.9 L1972.7,1138.9 L1974.7,1138.9 L1976.7,1138.9 L1978.7,1138.9 L1980.7,1138.9 L1982.7,1138.9 L1984.7,1138.9 L1986.7,1138.9 L1988.7,1138.9 L1990.7,1138.9 L1992.7,1138.9 L1994.7,1138.9 L1996.7,1138.9 L1998.7,1138.9 L2000.7,1138.9"/>
<path d="M462.6,1214.0 L464.6,1214.0 L466.6,1214.0 L468.6,1214.0 L470.6,1214.0 L472.6,1214.0 L474.6,1214.0 L476.6,1214.0 L478.6,1214.0 L480.6,1214.0 L482.6,1214.0 L484.6,1214.0 L486.6,1214.0 L488.6,1214.0 L490.6,1214.0 L492.6,1214.0 L494.6,1214.0 L496.6,1214.0 L498.6,1214.0 L500.6,1214.0 L502.6,1214.0 L504.6,1214.0 L506.6,1213.9 L508.6,1213.9 L510.6,1213.9 L512.6,1213.9 L514.6,1213.9 L516.6,1213.9 L518.6,1213.9 L520.6,1213.9 L522.6,1213.9 L524.6,1213.9 L526.6,1213.9 L528.6,1213.9 L530.6,1213.9 L532.6,1213.9 L534.6,1213.9 L536.6,1213.9 L538.6,1213.9 L540.6,1213.9 L542.6,1213.9 L544.6,1213.9 L546.6,1213.9 L548.6,1213.9 L550.6,1213.9 L552.6,1213.9 L554.6,1213.9 L556.6,1213.9 L558.6,1213.9 L560.6,1213.9 L562.6,1213.9 L564.6,1213.9 L566.6,1213.9 L568.6,1213.9 L570.6,1213.9 L572.6,1213.9 L574.6,1213.9 L576.6,1213.9 L578.6,1213.9 L580.6,1213.9 L582.6,1213.9 L584.6,1213.8 L586.6,1213.8 L588.6,1213.8 L590.6,1213.8 L592.6,1213.8 L594.6,1213.8 L596.6,1213.8 L598.6,1213.8 L600.6,1213.8 L602.6,1213.8 L604.6,1213.8 L606.6,1213.8 L608.6,1213.8 L610.6,1213.8 L612.6,1213.8 L614.6,1213.8 L616.6,1213.8 L618.6,1213.8 L620.6,1213.8 L622.6,1213.8 L624.6,1213.8 L626.6,1213.8 L628.6,1213.8 L630.6,1213.8 L632.6,1213.8 L634.6,1213.8 L636.6,1213.8 L638.6,1213.8 L640.6,1213.8 L642.6,1213.7 L644.6,1213.7 L646.6,1213.7 L648.6,1213.7 L650.6,1213.7 L652.6,1213.7 L654.6,1213.7 L656.6,1213.7 L658.6,1213.7 L660.6,1213.7 L662.6,1213.7 L664.6,1213.7 L666.6,1213.7 L668.6,1213.7 L670.6,1213.7 L672.6,1213.7 L674.6,1213.7 L676.6,1213.7 L678.6,1213.7 L680.6,1213.7 L682.6,1213.7 L684.6,1213.6 L686.6,1213.6 L688.6,1213.6 L690.6,1213.6 L692.6,1213.6 L694.6,1213.6 L696.6,1213.6 L698.6,1213.6 L700.6,1213.6 L702.6,1213.6 L704.6,1213.6 L706.6,1213.6 L708.6,1213.6 L710.6,1213.6 L712.6,1213.6 L714.6,1213.6 L716.6,1213.6 L718.6,1213.6 L720.6,1213.5 L722.6,1213.5 L724.6,1213.5 L726.6,1213.5 L728.6,1213.5 L730.6,1213.5 L732.6,1213.5 L734.6,1213.5 L736.6,1213.5 L738.6,1213.5 L740.6,1213.5 L742.6,1213.5 L744.6,1213.5 L746.6,1213.5 L748.6,1213.4 L750.6,1213.4 L752.6,1213.4 L754.6,1213.4 L756.6,1213.4 L758.6,1213.4 L760.6,1213.4 L762.6,1213.4 L764.6,1213.4 L766.6,1213.4 L768.6,1213.4 L770.6,1213.3 L772.6,1213.3 L774.6,1213.3 L776.6,1213.3 L778.6,1213.3 L780.6,1213.3 L782.6,1213.3 L784.6,1213.3 L786.6,1213.3 L788.6,1213.2 L790.6,1213.2 L792.6,1213.2 L794.6,1213.2 L796.6,1213.2 L798.6,1213.2 L800.6,1213.2 L802.6,1213.2 L804.6,1213.1 L806.6,1213.1 L808.6,1213.1 L810.6,1213.1 L812.6,1213.1 L814.6,1213.0 L816.6,1213.0 L818.6,1213.0 L820.6,1213.0 L822.6,1213.0 L824.6,1212.9 L826.6,1212.9 L828.6,1212.9 L830.6,1212.8 L832.6,1212.8 L834.6,1212.8 L836.6,1212.7 L838.6,1212.7 L840.6,1212.6 L842.6,1212.6 L844.6,1212.5 L846.6,1212.5 L848.6,1212.4 L850.6,1212.4 L852.6,1212.3 L854.6,1212.2 L856.6,1212.1 L858.6,1212.0 L860.6,1212.0 L862.6,1211.9 L864.6,1211.7 L866.6,1211.6 L868.6,1211.5 L870.6,1211.4 L872.6,1211.2 L874.6,1211.1 L876.6,1210.9 L878.6,1210.7 L880.6,1210.5 L882.6,1210.3 L884.6,1210.1 L886.6,1209.9 L888.6,1209.7 L890.6,1209.4 L892.6,1209.1 L894.6,1208.9 L896.6,1208.6 L898.6,1208.2 L900.6,1207.9 L902.6,1207.5 L904.6,1207.2 L906.6,1206.8 L908.6,1206.4 L910.6,1206.0 L912.6,1205.5 L914.6,1205.0 L916.6,1204.6 L918.6,1204.1 L920.6,1203.5 L922.6,1203.0 L924.6,1202.4 L926.6,1201.9 L928.6,1201.3 L930.6,1200.7 L932.6,1200.0 L934.6,1199.4 L936.6,1198.7 L938.6,1198.0 L940.6,1197.3 L942.6,1196.6 L944.6,1195.9 L946.6,1195.2 L948.6,1194.4 L950.6,1193.7 L952.6,1192.9 L954.6,1192.2 L956.6,1191.4 L958.6,1190.6 L960.6,1189.8 L962.6,1189.1 L964.6,1188.3 L966.6,1187.5 L968.6,1186.7 L970.6,1185.9 L972.6,1185.2 L974.6,1184.4 L976.6,1183.6 L978.6,1182.9 L980.6,1182.1 L982.6,1181.4 L984.6,1180.6 L986.6,1179.9 L988.6,1179.2 L990.6,1178.5 L992.6,1177.8 L994.6,1177.1 L996.6,1176.4 L998.6,1175.8 L1000.6,1175.1 L1002.6,1174.5 L1004.6,1173.9 L1006.6,1173.2 L1008.6,1172.6 L1010.6,1172.1 L1012.6,1171.5 L1014.6,1170.9 L1016.6,1170.4 L1018.6,1169.9 L1020.6,1169.3 L1022.6,1168.8 L1024.7,1168.3 L1026.7,1167.9 L1028.7,1167.4 L1030.7,1166.9 L1032.7,1166.5 L1034.7,1166.0 L1036.7,1165.6 L1038.7,1165.2 L1040.7,1164.8 L1042.7,1164.4 L1044.7,1164.0 L1046.7,1163.6 L1048.7,1163.3 L1050.7,1162.9 L1052.7,1162.6 L1054.7,1162.2 L1056.7,1161.9 L1058.7,1161.6 L1060.7,1161.3 L1062.7,1161.0 L1064.7,1160.7 L1066.7,1160.4 L1068.7,1160.1 L1070.7,1159.8 L1072.7,1159.5 L1074.7,1159.3 L1076.7,1159.0 L1078.7,1158.7 L1080.7,1158.5 L1082.7,1158.2 L1084.7,1158.0 L1086.7,1157.8 L1088.7,1157.5 L1090.7,1157.3 L1092.7,1157.1 L1094.7,1156.9 L1096.7,1156.6 L1098.7,1156.4 L1100.7,1156.2 L1102.7,1156.0 L1104.7,1155.8 L1106.7,1155.6 L1108.7,1155.4 L1110.7,1155.2 L1112.7,1155.1 L1114.7,1154.9 L1116.7,1154.7 L1118.7,1154.5 L1120.7,1154.3 L1122.7,1154.2 L1124.7,1154.0 L1126.7,1153.8 L1128.7,1153.7 L1130.7,1153.5 L1132.7,1153.3 L1134.7,1153.2 L1136.7,1153.0 L1138.7,1152.9 L1140.7,1152.7 L1142.7,1152.6 L1144.7,1152.4 L1146.7,1152.3 L1148.7,1152.1 L1150.7,1152.0 L1152.7,1151.9 L1154.7,1151.7 L1156.7,1151.6 L1158.7,1151.4 L1160.7,1151.3 L1162.7,1151.2 L1164.7,1151.1 L1166.7,1150.9 L1168.7,1150.8 L1170.7,1150.7 L1172.7,1150.5 L1174.7,1150.4 L1176.7,1150.3 L1178.7,1150.2 L1180.7,1150.1 L1182.7,1149.9 L1184.7,1149.8 L1186.7,1149.7 L1188.7,1149.6 L1190.7,1149.5 L1192.7,1149.4 L1194.7,1149.2 L1196.7,1149.1 L1198.7,1149.0 L1200.7,1148.9 L1202.7,1148.8 L1204.7,1148.7 L1206.7,1148.6 L1208.7,1148.5 L1210.7,1148.4 L1212.7,1148.3 L1214.7,1148.2 L1216.7,1148.1 L1218.7,1148.0 L1220.7,1147.8 L1222.7,1147.7 L1224.7,1147.6 L1226.7,1147.5 L1228.7,1147.4 L1230.7,1147.3 L1232.7,1147.2 L1234.7,1147.1 L1236.7,1147.0 L1238.7,1146.9 L1240.7,1146.8 L1242.7,1146.7 L1244.7,1146.6 L1246.7,1146.5 L1248.7,1146.4 L1250.7,1146.3 L1252.7,1146.2 L1254.7,1146.1 L1256.7,1146.0 L1258.7,1145.9 L1260.7,1145.7 L1262.7,1145.6 L1264.7,1145.5 L1266.7,1145.4 L1268.7,1145.3 L1270.7,1145.2 L1272.7,1145.0 L1274.7,1144.9 L1276.7,1144.8 L1278.7,1144.7 L1280.7,1144.5 L1282.7,1144.4 L1284.7,1144.3 L1286.7,1144.1 L1288.7,1144.0 L1290.7,1143.8 L1292.7,1143.7 L1294.7,1143.5 L1296.7,1143.4 L1298.7,1143.2 L1300.7,1143.0 L1302.7,1142.9 L1304.7,1142.7 L1306.7,1142.5 L1308.7,1142.3 L1310.7,1142.2 L1312.7,1142.0 L1314.7,1141.8 L1316.7,1141.6 L1318.7,1141.4 L1320.7,1141.1 L1322.7,1140.9 L1324.7,1140.7 L1326.7,1140.5 L1328.7,1140.2 L1330.7,1140.0 L1332.7,1139.7 L1334.7,1139.5 L1336.7,1139.2 L1338.7,1139.0 L1340.7,1138.7 L1342.7,1138.4 L1344.7,1138.1 L1346.7,1137.8 L1348.7,1137.5 L1350.7,1137.2 L1352.7,1136.9 L1354.7,1136.6 L1356.7,1136.2 L1358.7,1135.9 L1360.7,1135.5 L1362.7,1135.2 L1364.7,1134.8 L1366.7,1134.4 L1368.7,1134.1 L1370.7,1133.7 L1372.7,1133.3 L1374.7,1132.9 L1376.7,1132.5 L1378.7,1132.0 L1380.7,1131.6 L1382.7,1131.2 L1384.7,1130.7 L1386.7,1130.3 L1388.7,1129.8 L1390.7,1129.4 L1392.7,1128.9 L1394.7,1128.4 L1396.7,1127.9 L1398.7,1127.4 L1400.7,1126.9 L1402.7,1126.4 L1404.7,1125.9 L1406.7,1125.4 L1408.7,1124.9 L1410.7,1124.4 L1412.7,1123.8 L1414.7,1123.3 L1416.7,1122.8 L1418.7,1122.2 L1420.7,1121.7 L1422.7,1121.1 L1424.7,1120.6 L1426.7,1120.0 L1428.7,1119.5 L1430.7,1118.9 L1432.7,1118.4 L1434.7,1117.8 L1436.7,1117.3 L1438.7,1116.7 L1440.7,1116.2 L1442.7,1115.6 L1444.7,1115.1 L1446.7,1114.6 L1448.7,1114.0 L1450.7,1113.5 L1452.7,1113.0 L1454.7,1112.5 L1456.7,1111.9 L1458.7,1111.4 L1460.7,1111.0 L1462.7,1110.5 L1464.7,1110.0 L1466.7,1109.5 L1468.7,1109.1 L1470.7,1108.7 L1472.7,1108.2 L1474.7,1107.8 L1476.7,1107.4 L1478.7,1107.1 L1480.7,1106.7 L1482.7,1106.4 L1484.7,1106.0 L1486.7,1105.7 L1488.7,1105.4 L1490.7,1105.2 L1492.7,1104.9 L1494.7,1104.7 L1496.7,1104.5 L1498.7,1104.3 L1500.7,1104.1 L1502.7,1104.0 L1504.7,1103.9 L1506.7,1103.8 L1508.7,1103.7 L1510.7,1103.7 L1512.7,1103.7 L1514.7,1103.7 L1516.7,1103.7 L1518.7,1103.7 L1520.7,1103.8 L1522.7,1103.9 L1524.7,1104.0 L1526.7,1104.2 L1528.7,1104.3 L1530.7,1104.5 L1532.7,1104.7 L1534.7,1104.9 L1536.7,1105.2 L1538.7,1105.4 L1540.7,1105.7 L1542.7,1106.0 L1544.7,1106.3 L1546.7,1106.6 L1548.7,1107.0 L1550.7,1107.3 L1552.7,1107.7 L1554.7,1108.1 L1556.7,1108.5 L1558.7,1108.9 L1560.7,1109.3 L1562.7,1109.7 L1564.7,1110.2 L1566.7,1110.6 L1568.7,1111.1 L1570.7,1111.5 L1572.7,1112.0 L1574.7,1112.5 L1576.7,1112.9 L1578.7,1113.4 L1580.7,1113.9 L1582.7,1114.4 L1584.7,1114.9 L1586.7,1115.4 L1588.7,1115.8 L1590.7,1116.3 L1592.7,1116.8 L1594.7,1117.3 L1596.7,1117.8 L1598.7,1118.3 L1600.7,1118.8 L1602.7,1119.2 L1604.7,1119.7 L1606.7,1120.2 L1608.7,1120.7 L1610.7,1121.1 L1612.7,1121.6 L1614.7,1122.0 L1616.7,1122.5 L1618.7,1122.9 L1620.7,1123.4 L1622.7,1123.8 L1624.7,1124.2 L1626.7,1124.7 L1628.7,1125.1 L1630.7,1125.5 L1632.7,1125.9 L1634.7,1126.3 L1636.7,1126.6 L1638.7,1127.0 L1640.7,1127.4 L1642.7,1127.7 L1644.7,1128.1 L1646.7,1128.4 L1648.7,1128.8 L1650.7,1129.1 L1652.7,1129.4 L1654.7,1129.7 L1656.7,1130.0 L1658.7,1130.3 L1660.7,1130.6 L1662.7,1130.9 L1664.7,1131.2 L1666.7,1131.5 L1668.7,1131.7 L1670.7,1132.0 L1672.7,1132.2 L1674.7,1132.4 L1676.7,1132.7 L1678.7,1132.9 L1680.7,1133.1 L1682.7,1133.3 L1684.7,1133.5 L1686.7,1133.7 L1688.7,1133.9 L1690.7,1134.1 L1692.7,1134.2 L1694.7,1134.4 L1696.7,1134.6 L1698.7,1134.7 L1700.7,1134.9 L1702.7,1135.0 L1704.7,1135.1 L1706.7,1135.3 L1708.7,1135.4 L1710.7,1135.5 L1712.7,1135.7 L1714.7,1135.8 L1716.7,1135.9 L1718.7,1136.0 L1720.7,1136.1 L1722.7,1136.2 L1724.7,1136.3 L1726.7,1136.3 L1728.7,1136.4 L1730.7,1136.5 L1732.7,1136.6 L1734.7,1136.7 L1736.7,1136.7 L1738.7,1136.8 L1740.7,1136.9 L1742.7,1136.9 L1744.7,1137.0 L1746.7,1137.0 L1748.7,1137.1 L1750.7,1137.1 L1752.7,1137.2 L1754.7,1137.2 L1756.7,1137.3 L1758.7,1137.3 L1760.7,1137.4 L1762.7,1137.4 L1764.7,1137.4 L1766.7,1137.5 L1768.7,1137.5 L1770.7,1137.6 L1772.7,1137.6 L1774.7,1137.6 L1776.7,1137.6 L1778.7,1137.7 L1780.7,1137.7 L1782.7,1137.7 L1784.7,1137.7 L1786.7,1137.8 L1788.7,1137.8 L1790.7,1137.8 L1792.7,1137.8 L1794.7,1137.8 L1796.7,1137.9 L1798.7,1137.9 L1800.7,1137.9 L1802.7,1137.9 L1804.7,1137.9 L1806.7,1138.0 L1808.7,1138.0 L1810.7,1138.0 L1812.7,1138.0 L1814.7,1138.0 L1816.7,1138.0 L1818.7,1138.0 L1820.7,1138.0 L1822.7,1138.1 L1824.7,1138.1 L1826.7,1138.1 L1828.7,1138.1 L1830.7,1138.1 L1832.7,1138.1 L1834.7,1138.1 L1836.7,1138.1 L1838.7,1138.1 L1840.7,1138.1 L1842.7,1138.2 L1844.7,1138.2 L1846.7,1138.2 L1848.7,1138.2 L1850.7,1138.2 L1852.7,1138.2 L1854.7,1138.2 L1856.7,1138.2 L1858.7,1138.2 L1860.7,1138.2 L1862.7,1138.2 L1864.7,1138.2 L1866.7,1138.2 L1868.7,1138.2 L1870.7,1138.2 L1872.7,1138.3 L1874.7,1138.3 L1876.7,1138.3 L1878.7,1138.3 L1880.7,1138.3 L1882.7,1138.3 L1884.7,1138.3 L1886.7,1138.3 L1888.7,1138.3 L1890.7,1138.3 L1892.7,1138.3 L1894.7,1138.3 L1896.7,1138.3 L1898.7,1138.3 L1900.7,1138.3 L1902.7,1138.3 L1904.7,1138.3 L1906.7,1138.3 L1908.7,1138.3 L1910.7,1138.3 L1912.7,1138.4 L1914.7,1138.4 L1916.7,1138.4 L1918.7,1138.4 L1920.7,1138.4 L1922.7,1138.4 L1924.7,1138.4 L1926.7,1138.4 L1928.7,1138.4 L1930.7,1138.4 L1932.7,1138.4 L1934.7,1138.4 L1936.7,1138.4 L1938.7,1138.4 L1940.7,1138.4 L1942.7,1138.4 L1944.7,1138.4 L1946.7,1138.4 L1948.7,1138.4 L1950.7,1138.4 L1952.7,1138.4 L1954.7,1138.4 L1956.7,1138.4 L1958.7,1138.4 L1960.7,1138.4 L1962.7,1138.4 L1964.7,1138.4 L1966.7,1138.4 L1968.7,1138.4 L1970.7,1138.4 L1972.7,1138.4 L1974.7,1138.4 L1976.7,1138.4 L1978.7,1138.5 L1980.7,1138.5 L1982.7,1138.5 L1984.7,1138.5 L1986.7,1138.5 L1988.7,1138.5 L1990.7,1138.5 L1992.7,1138.5 L1994.7,1138.5 L1996.7,1138.5 L1998.7,1138.5 L2000.7,1138.5"/>
</g>
<line x1="965.5" y1="128.7" x2="965.5" y2="1250" stroke="#000" stroke-width="3"/><polygon points="956.5,1246 974.5,1246 967.7,1281 963.3,1281" fill="#000"/>
<line x1="1065.5" y1="312.2" x2="1065.5" y2="1250" stroke="#000" stroke-width="3"/><polygon points="1056.5,1246 1074.5,1246 1067.7,1281 1063.3,1281" fill="#000"/>
<line x1="1171.4" y1="671.1" x2="1171.4" y2="1250" stroke="#000" stroke-width="3"/><polygon points="1162.4,1246 1180.4,1246 1173.6000000000001,1281 1169.2,1281" fill="#000"/>
<line x1="1334.1" y1="829.2" x2="1334.1" y2="1250" stroke="#000" stroke-width="3"/><polygon points="1325.1,1246 1343.1,1246 1336.3,1281 1331.8999999999999,1281" fill="#000"/>
<line x1="1533.9" y1="1019.5" x2="1533.9" y2="1195.5" stroke="#000" stroke-width="3.4" stroke-linecap="round"/>
<g fill="#000">
<rect x="382" y="36" width="1700" height="7"/>
<rect x="382" y="1277" width="1700" height="8"/>
<rect x="382" y="36" width="7" height="1249"/>
<rect x="2074" y="36" width="8" height="1249"/>
</g>
<g stroke="#000" stroke-width="7.5" stroke-linecap="round"><line x1="424.2" y1="1281" x2="424.2" y2="1293" /><line x1="808.7" y1="1281" x2="808.7" y2="1293" /><line x1="1193.2" y1="1281" x2="1193.2" y2="1293" /><line x1="1577.7" y1="1281" x2="1577.7" y2="1293" /><line x1="1962.2" y1="1281" x2="1962.2" y2="1293" /><line x1="616.5" y1="1281" x2="616.5" y2="1306" /><line x1="1001.0" y1="1281" x2="1001.0" y2="1306" /><line x1="1385.5" y1="1281" x2="1385.5" y2="1306" /><line x1="1770.0" y1="1281" x2="1770.0" y2="1306" /><line x1="385" y1="1131.2" x2="372" y2="1131.2" /><line x1="385" y1="754.8" x2="372" y2="754.8" /><line x1="385" y1="378.2" x2="372" y2="378.2" /><line x1="385" y1="943.0" x2="360" y2="943.0" /><line x1="385" y1="566.5" x2="360" y2="566.5" /><line x1="385" y1="190.0" x2="360" y2="190.0" /></g>
<rect x="436" y="97" width="140" height="98" fill="#000"/>
<rect x="418.2" y="78.8" width="138.6" height="96.2" fill="#fff" stroke="#000" stroke-width="3.6"/>
<g fill="#000"><g transform="matrix(0.9922 0 0 1.0894 427.92 152.00)"><text style="font-family:'Liberation Sans',Arial,Helvetica,sans-serif;font-size:68px;white-space:pre;" xml:space="preserve">C1s</text><rect x="53.09" y="-6.64" width="13.12" height="7.14" fill="#fff"/><rect x="72.22" y="-6.64" width="12.58" height="7.14" fill="#fff"/></g><g transform="matrix(0.9733 0 0 1.0222 563.08 1371.80)"><text style="font-family:'Liberation Sans',Arial,Helvetica,sans-serif;font-size:64px;white-space:pre;" xml:space="preserve">280</text></g><g transform="matrix(0.9713 0 0 1.0222 947.99 1371.80)"><text style="font-family:'Liberation Sans',Arial,Helvetica,sans-serif;font-size:64px;white-space:pre;" xml:space="preserve">285</text></g><g transform="matrix(0.9713 0 0 1.0222 1331.99 1371.80)"><text style="font-family:'Liberation Sans',Arial,Helvetica,sans-serif;font-size:64px;white-space:pre;" xml:space="preserve">290</text></g><g transform="matrix(0.9713 0 0 1.0222 1716.99 1371.80)"><text style="font-family:'Liberation Sans',Arial,Helvetica,sans-serif;font-size:64px;white-space:pre;" xml:space="preserve">295</text></g><g transform="matrix(0.9647 0 0 1.0200 188.91 213.90)"><text style="font-family:'Liberation Sans',Arial,Helvetica,sans-serif;font-size:64px;white-space:pre;" xml:space="preserve">3x10</text><rect x="71.34" y="-6.25" width="12.34" height="6.72" fill="#fff"/><rect x="89.34" y="-6.25" width="11.84" height="6.72" fill="#fff"/></g><g transform="matrix(0.9707 0 0 1.0156 188.09 589.70)"><text style="font-family:'Liberation Sans',Arial,Helvetica,sans-serif;font-size:64px;white-space:pre;" xml:space="preserve">2x10</text><rect x="71.34" y="-6.25" width="12.34" height="6.72" fill="#fff"/><rect x="89.34" y="-6.25" width="11.84" height="6.72" fill="#fff"/></g><g transform="matrix(0.9554 0 0 1.0222 190.17 966.90)"><text style="font-family:'Liberation Sans',Arial,Helvetica,sans-serif;font-size:64px;white-space:pre;" xml:space="preserve">1x10</text><rect x="3.75" y="-6.25" width="12.34" height="6.72" fill="#fff"/><rect x="21.75" y="-6.25" width="11.84" height="6.72" fill="#fff"/><rect x="71.34" y="-6.25" width="12.34" height="6.72" fill="#fff"/><rect x="89.34" y="-6.25" width="11.84" height="6.72" fill="#fff"/></g><g transform="matrix(0.9474 0 0 0.9963 323.95 178.90)"><text style="font-family:'Liberation Sans',Arial,Helvetica,sans-serif;font-size:38px;white-space:pre;" xml:space="preserve">4</text></g><g transform="matrix(0.9474 0 0 1.0000 323.95 555.90)"><text style="font-family:'Liberation Sans',Arial,Helvetica,sans-serif;font-size:38px;white-space:pre;" xml:space="preserve">4</text></g><g transform="matrix(0.9474 0 0 0.9926 323.95 931.80)"><text style="font-family:'Liberation Sans',Arial,Helvetica,sans-serif;font-size:38px;white-space:pre;" xml:space="preserve">4</text></g><g transform="matrix(0.9982 0 0 0.9813 897.11 1491.92)"><text style="font-family:'Liberation Sans',Arial,Helvetica,sans-serif;font-size:80px;white-space:pre;" xml:space="preserve">Binding energy, eV</text></g><g transform="matrix(0 -0.9879 0.9880 0 86.20 860.82)"><text style="font-family:'Liberation Sans',Arial,Helvetica,sans-serif;font-size:80px;white-space:pre;" xml:space="preserve">Intensity (cps)</text></g><g transform="matrix(1.0187 0 0 1.0263 925.94 112.90)"><text style="font-family:'Liberation Sans',Arial,Helvetica,sans-serif;font-size:55px;white-space:pre;" xml:space="preserve">284.5 -</text></g><g transform="matrix(1.0123 0 0 1.1211 1129.66 114.40)"><text style="font-family:'Liberation Sans',Arial,Helvetica,sans-serif;font-size:55px;white-space:pre;" xml:space="preserve">C=C</text></g><g transform="matrix(1.0187 0 0 1.0184 1053.04 293.90)"><text style="font-family:'Liberation Sans',Arial,Helvetica,sans-serif;font-size:55px;white-space:pre;" xml:space="preserve">285.8 -</text></g><g transform="matrix(1.0022 0 0 1.0895 1256.99 294.70)"><text style="font-family:'Liberation Sans',Arial,Helvetica,sans-serif;font-size:55px;white-space:pre;" xml:space="preserve">C-N</text></g><g transform="matrix(1.0241 0 0 1.0289 1122.13 655.00)"><text style="font-family:'Liberation Sans',Arial,Helvetica,sans-serif;font-size:55px;white-space:pre;" xml:space="preserve">287.2 -</text></g><g transform="matrix(1.0195 0 0 1.0974 1325.69 655.80)"><text style="font-family:'Liberation Sans',Arial,Helvetica,sans-serif;font-size:55px;white-space:pre;" xml:space="preserve">C-O</text></g><g transform="matrix(1.0102 0 0 1.0316 1304.07 806.30)"><text style="font-family:'Liberation Sans',Arial,Helvetica,sans-serif;font-size:55px;white-space:pre;" xml:space="preserve">289.3 -</text></g><g transform="matrix(1.0182 0 0 1.1105 1506.95 807.30)"><text style="font-family:'Liberation Sans',Arial,Helvetica,sans-serif;font-size:55px;white-space:pre;" xml:space="preserve">O-C=O</text></g><g transform="matrix(0.9916 0 0 1.0077 1497.80 995.99)"><text style="font-family:'Liberation Serif','Times New Roman',serif;font-size:55px;white-space:pre;stroke:#000;stroke-width:1px" xml:space="preserve">π–π</text></g><g transform="matrix(1.3071 0 0 1.2214 1580.49 990.10)"><text style="font-family:'Liberation Sans',Arial,Helvetica,sans-serif;font-size:40px;white-space:pre;" xml:space="preserve">*</text></g><g transform="matrix(1.0110 0 0 0.9950 1616.98 995.90)"><text style="font-family:'Liberation Sans',Arial,Helvetica,sans-serif;font-size:55px;white-space:pre;" xml:space="preserve">satellite</text></g></g>
</svg>
</body></html>
